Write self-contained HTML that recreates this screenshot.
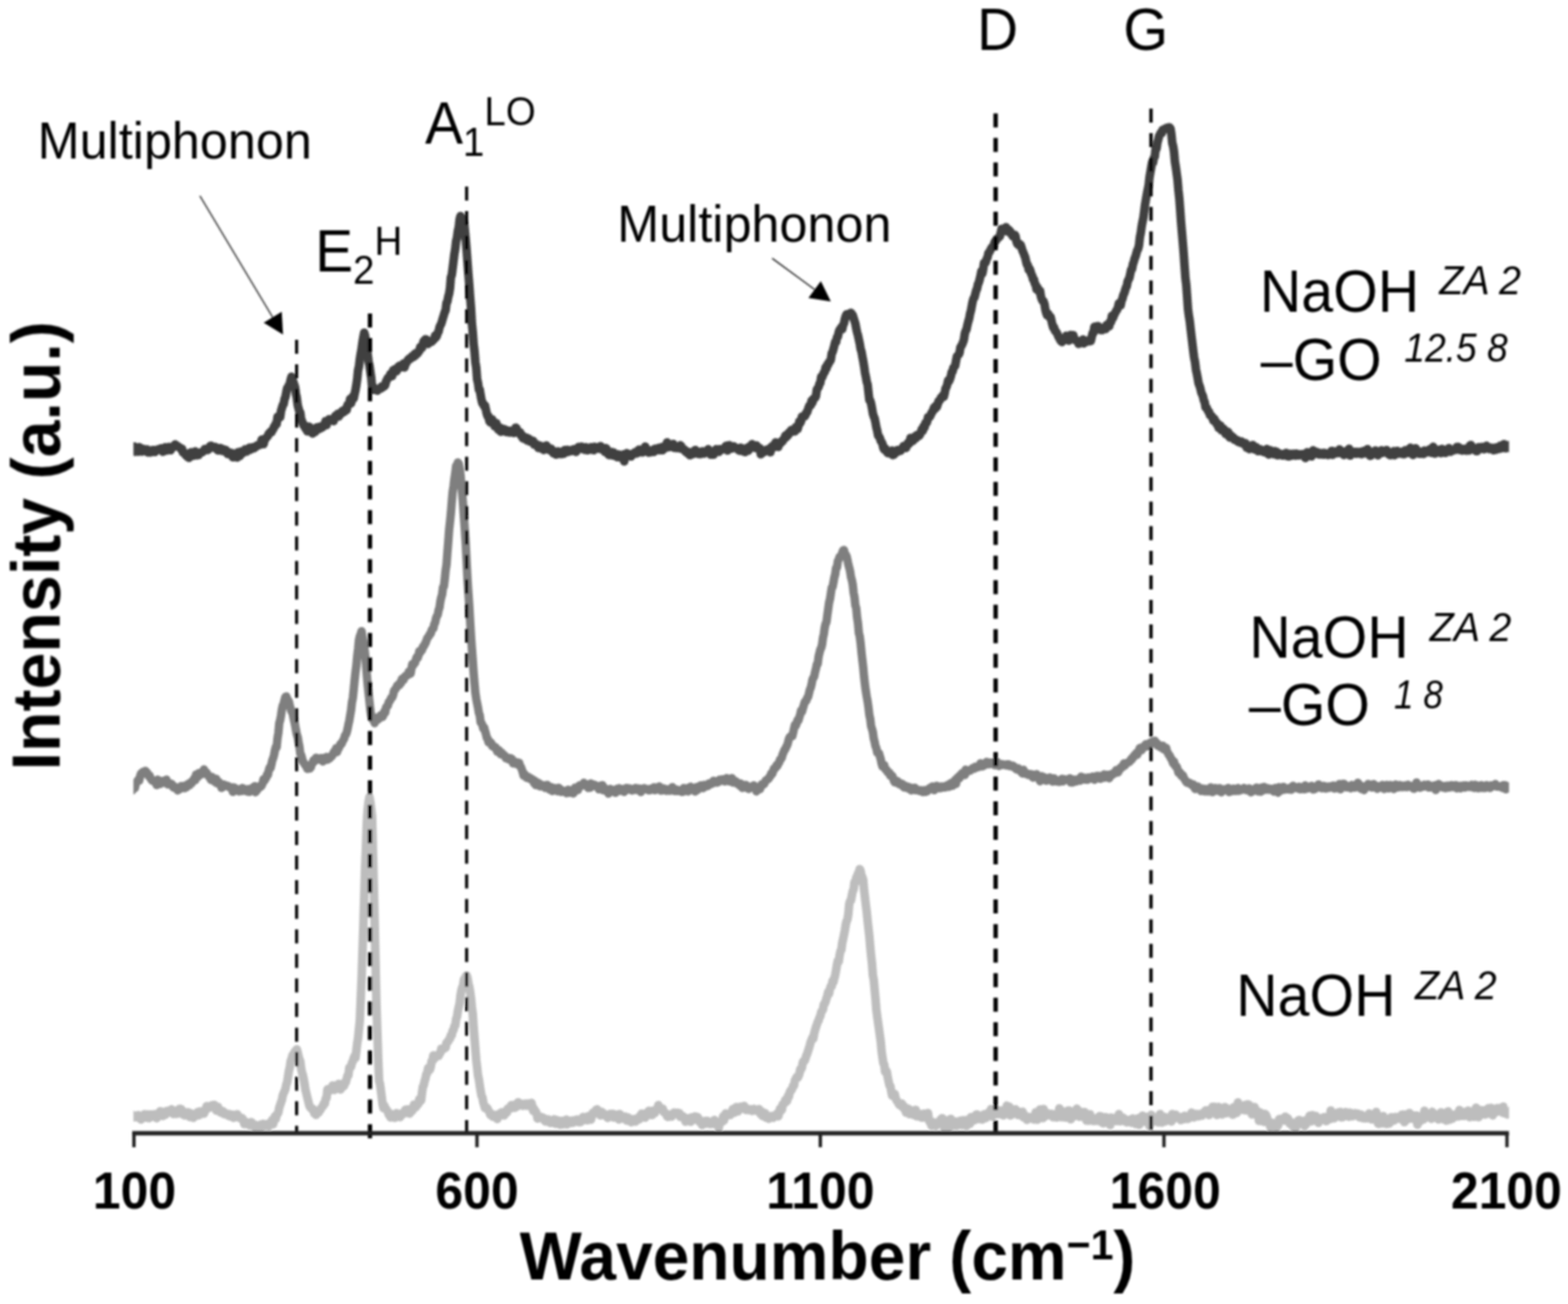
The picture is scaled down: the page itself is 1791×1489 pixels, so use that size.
<!DOCTYPE html>
<html lang="en">
<head>
<meta charset="utf-8">
<title>Raman spectra</title>
<style>
html,body{margin:0;padding:0;background:#fff;}
body{width:1791px;height:1489px;overflow:hidden;}
svg{display:block;}
text{font-family:"Liberation Sans", sans-serif;fill:#000;}
.b{font-weight:bold;}
.i{font-style:italic;}
.curve{fill:none;stroke-linejoin:round;stroke-linecap:butt;}
.dash{stroke:#000;fill:none;}
</style>
</head>
<body>
<svg width="1791" height="1489" viewBox="0 0 1791 1489">
<rect x="0" y="0" width="1791" height="1489" fill="#ffffff"/>
<defs><filter id="soft" x="0" y="0" width="1791" height="1489" filterUnits="userSpaceOnUse"><feGaussianBlur stdDeviation="0.9"/></filter></defs>
<clipPath id="plot"><rect x="152.4" y="0" width="1571.2" height="1489"/></clipPath>
<g filter="url(#soft)">
<g clip-path="url(#plot)">
<polyline class="curve" stroke="#bdbdbd" stroke-width="9.8" points="148.0,1279.0 149.0,1277.0 150.0,1276.0 151.0,1272.9 152.0,1275.3 153.0,1275.3 154.0,1275.6 155.0,1274.7 156.0,1275.5 157.0,1274.7 158.0,1273.4 159.0,1276.9 160.0,1277.2 161.0,1278.3 162.0,1275.4 163.0,1274.4 164.0,1273.9 165.0,1272.4 166.0,1276.2 167.0,1272.9 168.0,1272.5 169.0,1274.2 170.0,1276.9 171.0,1274.8 172.0,1272.5 173.0,1272.9 174.0,1275.0 175.0,1273.7 176.0,1272.5 177.0,1273.4 178.0,1275.1 179.0,1276.8 180.0,1271.6 181.0,1272.1 182.0,1271.6 183.0,1268.9 184.0,1271.0 185.0,1271.0 186.0,1274.3 187.0,1272.0 188.0,1269.5 189.0,1272.8 190.0,1271.0 191.0,1268.5 192.0,1270.0 193.0,1269.9 194.0,1269.4 195.0,1270.4 196.0,1266.7 197.0,1269.7 198.0,1271.9 199.0,1271.6 200.0,1271.8 201.0,1271.7 202.0,1271.9 203.0,1267.6 204.0,1270.1 205.0,1266.1 206.0,1268.0 207.0,1266.5 208.0,1271.6 209.0,1272.5 210.0,1270.5 211.0,1273.6 212.0,1270.1 213.0,1271.4 214.0,1271.7 215.0,1270.1 216.0,1272.9 217.0,1275.5 218.0,1271.2 219.0,1274.2 220.0,1273.1 221.0,1276.3 222.0,1274.1 223.0,1274.0 224.0,1273.7 225.0,1272.5 226.0,1269.8 227.0,1273.6 228.0,1269.2 229.0,1271.3 230.0,1271.6 231.0,1269.0 232.0,1270.3 233.0,1271.6 234.0,1269.3 235.0,1267.2 236.0,1263.1 237.0,1265.3 238.0,1265.3 239.0,1264.5 240.0,1263.1 241.0,1264.3 242.0,1262.1 243.0,1262.0 244.0,1263.5 245.0,1261.7 246.0,1263.4 247.0,1268.1 248.0,1266.8 249.0,1263.9 250.0,1266.5 251.0,1268.5 252.0,1270.3 253.0,1269.3 254.0,1268.7 255.0,1269.2 256.0,1272.1 257.0,1272.3 258.0,1271.3 259.0,1272.0 260.0,1272.0 261.0,1274.0 262.0,1272.1 263.0,1274.2 264.0,1275.1 265.0,1274.7 266.0,1272.9 267.0,1276.4 268.0,1273.6 269.0,1275.3 270.0,1273.6 271.0,1272.3 272.0,1275.7 273.0,1276.2 274.0,1275.9 275.0,1277.2 276.0,1276.5 277.0,1277.1 278.0,1279.2 279.0,1283.5 280.0,1282.6 281.0,1281.2 282.0,1283.5 283.0,1282.4 284.0,1282.7 285.0,1285.0 286.0,1283.0 287.0,1281.3 288.0,1282.8 289.0,1284.8 290.0,1285.4 291.0,1287.2 292.0,1284.5 293.0,1286.9 294.0,1286.5 295.0,1285.6 296.0,1287.0 297.0,1286.3 298.0,1284.1 299.0,1286.8 300.0,1283.3 301.0,1285.1 302.0,1285.1 303.0,1285.5 304.0,1283.6 305.0,1284.5 306.0,1284.4 307.0,1286.0 308.0,1282.7 309.0,1282.8 310.0,1281.1 311.0,1278.7 312.0,1283.7 313.0,1278.3 314.0,1274.7 315.0,1277.9 316.0,1272.8 317.0,1272.2 318.0,1270.1 319.0,1264.7 320.0,1261.9 321.0,1258.7 322.0,1256.1 323.0,1250.7 324.0,1248.2 325.0,1246.1 326.0,1243.6 327.0,1238.6 328.0,1235.7 329.0,1229.3 330.0,1222.8 331.0,1219.0 332.0,1211.8 333.0,1209.2 334.0,1205.4 335.0,1203.8 336.0,1202.8 337.0,1200.5 338.0,1199.9 339.0,1198.2 340.0,1201.6 341.0,1205.9 342.0,1209.8 343.0,1211.9 344.0,1220.4 345.0,1224.7 346.0,1228.0 347.0,1232.7 348.0,1238.6 349.0,1244.9 350.0,1248.9 351.0,1253.1 352.0,1257.0 353.0,1261.3 354.0,1264.0 355.0,1265.0 356.0,1266.4 357.0,1266.0 358.0,1266.7 359.0,1271.4 360.0,1268.8 361.0,1273.0 362.0,1270.2 363.0,1270.1 364.0,1270.5 365.0,1267.9 366.0,1267.3 367.0,1265.2 368.0,1263.7 369.0,1263.1 370.0,1259.7 371.0,1260.2 372.0,1254.5 373.0,1253.8 374.0,1244.0 375.0,1245.9 376.0,1245.7 377.0,1243.1 378.0,1244.0 379.0,1242.1 380.0,1239.5 381.0,1240.8 382.0,1244.6 383.0,1240.6 384.0,1240.3 385.0,1239.1 386.0,1239.8 387.0,1237.6 388.0,1239.6 389.0,1244.0 390.0,1242.0 391.0,1241.1 392.0,1240.6 393.0,1239.8 394.0,1235.8 395.0,1235.8 396.0,1231.9 397.0,1228.1 398.0,1227.8 399.0,1219.1 400.0,1219.3 401.0,1218.0 402.0,1213.5 403.0,1211.9 404.0,1208.4 405.0,1205.9 406.0,1208.3 407.0,1200.4 408.0,1191.5 409.0,1185.7 410.0,1175.2 411.0,1165.5 412.0,1141.2 413.0,1118.1 414.0,1088.3 415.0,1059.1 416.0,1025.3 417.0,990.9 418.0,967.7 419.0,939.0 420.0,923.7 421.0,915.7 422.0,910.0 423.0,915.6 424.0,923.7 425.0,932.7 426.0,973.9 427.0,1013.5 428.0,1057.4 429.0,1102.4 430.0,1148.1 431.0,1177.9 432.0,1208.5 433.0,1234.1 434.0,1237.6 435.0,1244.9 436.0,1252.6 437.0,1261.1 438.0,1265.4 439.0,1262.5 440.0,1265.1 441.0,1266.3 442.0,1268.1 443.0,1269.1 444.0,1272.8 445.0,1271.3 446.0,1276.0 447.0,1275.6 448.0,1272.7 449.0,1272.7 450.0,1273.4 451.0,1276.4 452.0,1272.6 453.0,1271.2 454.0,1273.3 455.0,1273.9 456.0,1272.2 457.0,1275.5 458.0,1273.3 459.0,1273.1 460.0,1270.8 461.0,1271.7 462.0,1270.9 463.0,1267.2 464.0,1270.5 465.0,1267.0 466.0,1269.1 467.0,1266.8 468.0,1271.7 469.0,1268.9 470.0,1269.0 471.0,1268.4 472.0,1264.0 473.0,1261.3 474.0,1263.3 475.0,1264.2 476.0,1261.8 477.0,1261.5 478.0,1260.2 479.0,1255.0 480.0,1256.4 481.0,1256.6 482.0,1248.0 483.0,1241.0 484.0,1239.2 485.0,1234.5 486.0,1231.4 487.0,1226.6 488.0,1225.4 489.0,1219.6 490.0,1222.2 491.0,1221.4 492.0,1218.3 493.0,1211.5 494.0,1211.6 495.0,1205.1 496.0,1209.0 497.0,1207.7 498.0,1205.3 499.0,1206.4 500.0,1205.3 501.0,1205.6 502.0,1203.4 503.0,1202.2 504.0,1197.7 505.0,1197.8 506.0,1197.9 507.0,1197.6 508.0,1195.7 509.0,1196.3 510.0,1190.9 511.0,1190.0 512.0,1189.1 513.0,1186.7 514.0,1186.0 515.0,1181.9 516.0,1182.2 517.0,1176.9 518.0,1176.2 519.0,1171.8 520.0,1171.0 521.0,1163.7 522.0,1161.1 523.0,1154.3 524.0,1149.8 525.0,1145.7 526.0,1136.3 527.0,1130.9 528.0,1127.5 529.0,1125.3 530.0,1118.2 531.0,1117.9 532.0,1114.8 533.0,1113.9 534.0,1116.7 535.0,1122.9 536.0,1126.7 537.0,1132.5 538.0,1139.9 539.0,1150.3 540.0,1157.9 541.0,1172.9 542.0,1185.5 543.0,1198.2 544.0,1210.5 545.0,1219.0 546.0,1228.1 547.0,1232.6 548.0,1239.5 549.0,1245.9 550.0,1251.4 551.0,1252.9 552.0,1258.7 553.0,1261.8 554.0,1265.3 555.0,1264.5 556.0,1264.7 557.0,1266.2 558.0,1268.4 559.0,1269.6 560.0,1272.7 561.0,1273.8 562.0,1273.9 563.0,1275.1 564.0,1273.0 565.0,1274.7 566.0,1274.1 567.0,1275.4 568.0,1277.8 569.0,1275.6 570.0,1271.9 571.0,1273.6 572.0,1272.3 573.0,1270.2 574.0,1270.8 575.0,1273.1 576.0,1273.6 577.0,1269.4 578.0,1271.0 579.0,1270.4 580.0,1265.9 581.0,1266.7 582.0,1266.1 583.0,1265.5 584.0,1261.9 585.0,1263.2 586.0,1265.0 587.0,1264.8 588.0,1264.9 589.0,1260.9 590.0,1263.9 591.0,1261.9 592.0,1258.6 593.0,1261.8 594.0,1260.3 595.0,1261.5 596.0,1260.7 597.0,1262.7 598.0,1261.2 599.0,1260.4 600.0,1262.3 601.0,1261.2 602.0,1260.2 603.0,1262.7 604.0,1260.3 605.0,1260.1 606.0,1260.5 607.0,1259.4 608.0,1262.8 609.0,1268.4 610.0,1266.1 611.0,1269.0 612.0,1269.2 613.0,1272.0 614.0,1277.3 615.0,1276.9 616.0,1274.9 617.0,1276.2 618.0,1275.4 619.0,1275.9 620.0,1276.2 621.0,1276.8 622.0,1279.4 623.0,1280.5 624.0,1280.7 625.0,1279.9 626.0,1278.1 627.0,1280.1 628.0,1279.1 629.0,1282.1 630.0,1281.9 631.0,1282.1 632.0,1280.2 633.0,1278.1 634.0,1282.6 635.0,1283.2 636.0,1278.9 637.0,1281.5 638.0,1283.3 639.0,1280.0 640.0,1284.3 641.0,1281.1 642.0,1280.0 643.0,1283.8 644.0,1282.1 645.0,1280.5 646.0,1282.5 647.0,1278.4 648.0,1283.9 649.0,1280.0 650.0,1281.4 651.0,1280.4 652.0,1281.7 653.0,1282.2 654.0,1279.5 655.0,1281.8 656.0,1280.1 657.0,1279.2 658.0,1279.8 659.0,1278.4 660.0,1278.7 661.0,1281.3 662.0,1279.7 663.0,1281.4 664.0,1280.0 665.0,1277.2 666.0,1275.5 667.0,1277.3 668.0,1278.8 669.0,1278.2 670.0,1276.8 671.0,1279.2 672.0,1274.7 673.0,1274.8 674.0,1276.3 675.0,1278.5 676.0,1274.4 677.0,1270.7 678.0,1272.0 679.0,1271.2 680.0,1270.3 681.0,1267.0 682.0,1266.8 683.0,1268.8 684.0,1270.0 685.0,1272.6 686.0,1273.7 687.0,1269.6 688.0,1270.2 689.0,1271.5 690.0,1271.9 691.0,1273.6 692.0,1274.2 693.0,1274.4 694.0,1276.5 695.0,1274.5 696.0,1272.8 697.0,1272.0 698.0,1272.9 699.0,1272.9 700.0,1271.9 701.0,1276.1 702.0,1275.6 703.0,1274.5 704.0,1273.7 705.0,1272.6 706.0,1274.0 707.0,1278.3 708.0,1272.2 709.0,1275.8 710.0,1277.1 711.0,1276.2 712.0,1275.7 713.0,1277.5 714.0,1275.0 715.0,1278.0 716.0,1279.6 717.0,1276.0 718.0,1276.5 719.0,1278.5 720.0,1280.5 721.0,1281.4 722.0,1280.5 723.0,1278.4 724.0,1277.9 725.0,1280.5 726.0,1280.6 727.0,1277.4 728.0,1278.3 729.0,1278.1 730.0,1278.2 731.0,1274.1 732.0,1275.3 733.0,1271.8 734.0,1272.0 735.0,1271.9 736.0,1274.0 737.0,1276.2 738.0,1271.4 739.0,1271.5 740.0,1272.1 741.0,1268.4 742.0,1271.5 743.0,1268.7 744.0,1273.2 745.0,1273.2 746.0,1270.8 747.0,1268.0 748.0,1270.9 749.0,1268.0 750.0,1266.7 751.0,1266.3 752.0,1261.9 753.0,1264.5 754.0,1265.8 755.0,1265.8 756.0,1266.4 757.0,1266.0 758.0,1269.7 759.0,1270.4 760.0,1271.1 761.0,1271.4 762.0,1274.8 763.0,1275.3 764.0,1273.7 765.0,1274.3 766.0,1274.8 767.0,1274.9 768.0,1272.3 769.0,1271.1 770.0,1270.5 771.0,1271.0 772.0,1271.8 773.0,1272.1 774.0,1270.6 775.0,1271.9 776.0,1271.1 777.0,1275.3 778.0,1273.7 779.0,1275.4 780.0,1274.6 781.0,1275.9 782.0,1276.3 783.0,1280.8 784.0,1279.5 785.0,1278.5 786.0,1277.0 787.0,1277.5 788.0,1279.5 789.0,1281.0 790.0,1275.9 791.0,1276.3 792.0,1277.4 793.0,1276.5 794.0,1274.8 795.0,1277.5 796.0,1278.8 797.0,1275.7 798.0,1279.0 799.0,1281.0 800.0,1281.5 801.0,1280.0 802.0,1284.7 803.0,1282.4 804.0,1280.5 805.0,1283.1 806.0,1280.0 807.0,1282.9 808.0,1279.8 809.0,1282.8 810.0,1281.0 811.0,1283.6 812.0,1283.1 813.0,1282.5 814.0,1282.0 815.0,1283.3 816.0,1278.9 817.0,1282.3 818.0,1282.5 819.0,1282.8 820.0,1283.6 821.0,1287.7 822.0,1281.4 823.0,1281.4 824.0,1279.8 825.0,1280.9 826.0,1274.7 827.0,1279.4 828.0,1274.9 829.0,1271.4 830.0,1272.5 831.0,1273.4 832.0,1273.4 833.0,1272.6 834.0,1273.2 835.0,1271.3 836.0,1270.3 837.0,1266.5 838.0,1270.1 839.0,1270.5 840.0,1267.4 841.0,1264.2 842.0,1264.8 843.0,1269.0 844.0,1265.0 845.0,1264.1 846.0,1263.7 847.0,1266.1 848.0,1264.3 849.0,1263.7 850.0,1262.9 851.0,1265.4 852.0,1267.4 853.0,1265.9 854.0,1267.5 855.0,1266.6 856.0,1266.6 857.0,1266.8 858.0,1266.8 859.0,1268.5 860.0,1267.8 861.0,1266.2 862.0,1267.4 863.0,1267.3 864.0,1268.3 865.0,1268.1 866.0,1268.8 867.0,1266.5 868.0,1270.2 869.0,1272.4 870.0,1269.1 871.0,1274.3 872.0,1273.2 873.0,1272.7 874.0,1271.1 875.0,1276.2 876.0,1273.9 877.0,1275.2 878.0,1277.5 879.0,1275.6 880.0,1275.2 881.0,1274.4 882.0,1275.7 883.0,1276.3 884.0,1275.5 885.0,1274.7 886.0,1272.9 887.0,1272.9 888.0,1271.2 889.0,1274.7 890.0,1271.0 891.0,1265.8 892.0,1265.4 893.0,1267.5 894.0,1261.0 895.0,1260.3 896.0,1259.9 897.0,1256.1 898.0,1257.9 899.0,1257.1 900.0,1251.6 901.0,1252.6 902.0,1247.5 903.0,1245.1 904.0,1245.0 905.0,1242.8 906.0,1239.5 907.0,1239.3 908.0,1233.5 909.0,1232.1 910.0,1229.9 911.0,1230.9 912.0,1229.0 913.0,1226.4 914.0,1221.2 915.0,1221.2 916.0,1219.0 917.0,1213.0 918.0,1211.5 919.0,1211.4 920.0,1208.9 921.0,1205.5 922.0,1203.1 923.0,1200.1 924.0,1197.0 925.0,1193.7 926.0,1189.6 927.0,1187.5 928.0,1184.7 929.0,1186.0 930.0,1179.9 931.0,1176.2 932.0,1172.9 933.0,1170.0 934.0,1166.9 935.0,1165.3 936.0,1161.9 937.0,1160.4 938.0,1155.4 939.0,1154.4 940.0,1152.6 941.0,1146.8 942.0,1146.1 943.0,1143.7 944.0,1140.1 945.0,1137.1 946.0,1132.6 947.0,1134.7 948.0,1129.0 949.0,1126.0 950.0,1126.2 951.0,1120.0 952.0,1121.5 953.0,1117.0 954.0,1113.2 955.0,1107.8 956.0,1101.8 957.0,1096.9 958.0,1098.2 959.0,1090.7 960.0,1086.1 961.0,1084.7 962.0,1076.7 963.0,1072.4 964.0,1067.6 965.0,1062.6 966.0,1056.0 967.0,1051.8 968.0,1049.7 969.0,1043.6 970.0,1032.4 971.0,1029.0 972.0,1028.0 973.0,1022.5 974.0,1017.7 975.0,1015.6 976.0,1007.3 977.0,1007.8 978.0,1002.4 979.0,1000.4 980.0,997.5 981.0,995.9 982.0,992.4 983.0,994.6 984.0,999.6 985.0,1001.7 986.0,1004.8 987.0,1016.6 988.0,1024.6 989.0,1033.5 990.0,1041.2 991.0,1051.3 992.0,1060.1 993.0,1069.2 994.0,1081.0 995.0,1091.2 996.0,1100.1 997.0,1113.9 998.0,1118.6 999.0,1129.6 1000.0,1140.1 1001.0,1153.2 1002.0,1160.7 1003.0,1168.0 1004.0,1174.7 1005.0,1182.4 1006.0,1189.3 1007.0,1200.6 1008.0,1207.5 1009.0,1214.1 1010.0,1215.6 1011.0,1224.0 1012.0,1222.2 1013.0,1223.9 1014.0,1230.4 1015.0,1235.0 1016.0,1239.5 1017.0,1240.3 1018.0,1246.3 1019.0,1251.1 1020.0,1248.3 1021.0,1249.5 1022.0,1249.4 1023.0,1254.0 1024.0,1256.5 1025.0,1257.8 1026.0,1259.2 1027.0,1261.3 1028.0,1260.6 1029.0,1262.8 1030.0,1260.1 1031.0,1261.6 1032.0,1265.3 1033.0,1263.6 1034.0,1267.8 1035.0,1270.5 1036.0,1268.4 1037.0,1265.8 1038.0,1266.5 1039.0,1272.2 1040.0,1267.5 1041.0,1269.9 1042.0,1269.5 1043.0,1270.6 1044.0,1273.3 1045.0,1269.2 1046.0,1267.3 1047.0,1274.7 1048.0,1272.3 1049.0,1273.4 1050.0,1271.9 1051.0,1274.2 1052.0,1275.8 1053.0,1276.1 1054.0,1272.0 1055.0,1271.8 1056.0,1274.5 1057.0,1275.1 1058.0,1276.6 1059.0,1273.9 1060.0,1270.8 1061.0,1278.9 1062.0,1281.2 1063.0,1281.9 1064.0,1285.3 1065.0,1283.9 1066.0,1281.3 1067.0,1284.6 1068.0,1282.3 1069.0,1285.6 1070.0,1283.3 1071.0,1283.7 1072.0,1283.2 1073.0,1282.5 1074.0,1278.7 1075.0,1282.2 1076.0,1276.9 1077.0,1284.0 1078.0,1286.1 1079.0,1288.8 1080.0,1284.4 1081.0,1281.1 1082.0,1279.3 1083.0,1288.0 1084.0,1280.2 1085.0,1285.2 1086.0,1277.6 1087.0,1283.2 1088.0,1285.6 1089.0,1284.8 1090.0,1283.4 1091.0,1281.0 1092.0,1280.7 1093.0,1285.4 1094.0,1283.9 1095.0,1282.1 1096.0,1282.5 1097.0,1279.6 1098.0,1284.4 1099.0,1284.7 1100.0,1279.2 1101.0,1281.1 1102.0,1283.2 1103.0,1279.1 1104.0,1285.5 1105.0,1284.0 1106.0,1279.2 1107.0,1282.0 1108.0,1283.2 1109.0,1275.7 1110.0,1279.7 1111.0,1277.7 1112.0,1277.3 1113.0,1279.2 1114.0,1275.8 1115.0,1272.8 1116.0,1272.6 1117.0,1276.2 1118.0,1277.8 1119.0,1275.9 1120.0,1275.1 1121.0,1275.4 1122.0,1278.4 1123.0,1276.1 1124.0,1272.4 1125.0,1273.3 1126.0,1276.7 1127.0,1272.0 1128.0,1271.9 1129.0,1272.5 1130.0,1269.8 1131.0,1274.0 1132.0,1266.5 1133.0,1275.0 1134.0,1270.2 1135.0,1267.7 1136.0,1270.9 1137.0,1266.1 1138.0,1271.4 1139.0,1272.2 1140.0,1268.6 1141.0,1269.0 1142.0,1272.1 1143.0,1268.1 1144.0,1269.6 1145.0,1270.8 1146.0,1273.6 1147.0,1268.3 1148.0,1269.5 1149.0,1271.7 1150.0,1262.5 1151.0,1267.5 1152.0,1263.5 1153.0,1264.0 1154.0,1273.7 1155.0,1269.9 1156.0,1272.5 1157.0,1268.3 1158.0,1269.8 1159.0,1267.2 1160.0,1266.8 1161.0,1268.0 1162.0,1269.2 1163.0,1273.2 1164.0,1269.7 1165.0,1271.4 1166.0,1270.7 1167.0,1272.0 1168.0,1269.4 1169.0,1275.9 1170.0,1272.9 1171.0,1274.7 1172.0,1275.0 1173.0,1278.7 1174.0,1277.3 1175.0,1275.7 1176.0,1275.7 1177.0,1276.0 1178.0,1276.8 1179.0,1276.1 1180.0,1277.8 1181.0,1278.4 1182.0,1275.1 1183.0,1270.1 1184.0,1277.6 1185.0,1278.5 1186.0,1271.7 1187.0,1270.6 1188.0,1266.8 1189.0,1273.8 1190.0,1270.2 1191.0,1276.7 1192.0,1266.4 1193.0,1272.5 1194.0,1274.5 1195.0,1271.8 1196.0,1270.9 1197.0,1273.5 1198.0,1271.8 1199.0,1272.3 1200.0,1273.1 1201.0,1272.0 1202.0,1273.0 1203.0,1275.7 1204.0,1272.9 1205.0,1274.1 1206.0,1272.2 1207.0,1276.0 1208.0,1270.8 1209.0,1275.4 1210.0,1265.6 1211.0,1270.2 1212.0,1269.2 1213.0,1275.7 1214.0,1273.8 1215.0,1269.5 1216.0,1271.4 1217.0,1276.2 1218.0,1272.9 1219.0,1273.7 1220.0,1268.2 1221.0,1268.1 1222.0,1273.8 1223.0,1278.1 1224.0,1271.0 1225.0,1273.0 1226.0,1269.5 1227.0,1274.6 1228.0,1270.4 1229.0,1269.7 1230.0,1266.0 1231.0,1269.7 1232.0,1271.8 1233.0,1275.1 1234.0,1269.4 1235.0,1274.9 1236.0,1272.3 1237.0,1272.6 1238.0,1271.3 1239.0,1269.8 1240.0,1272.0 1241.0,1279.6 1242.0,1273.3 1243.0,1275.6 1244.0,1279.7 1245.0,1272.4 1246.0,1278.5 1247.0,1276.6 1248.0,1278.4 1249.0,1280.1 1250.0,1277.6 1251.0,1277.4 1252.0,1279.8 1253.0,1279.5 1254.0,1276.0 1255.0,1276.9 1256.0,1274.5 1257.0,1280.8 1258.0,1274.9 1259.0,1278.4 1260.0,1282.7 1261.0,1280.3 1262.0,1277.1 1263.0,1275.7 1264.0,1276.2 1265.0,1280.2 1266.0,1278.9 1267.0,1278.4 1268.0,1284.6 1269.0,1276.1 1270.0,1276.4 1271.0,1276.8 1272.0,1278.5 1273.0,1278.7 1274.0,1277.4 1275.0,1280.0 1276.0,1279.7 1277.0,1277.3 1278.0,1272.2 1279.0,1280.4 1280.0,1276.7 1281.0,1277.5 1282.0,1278.9 1283.0,1276.4 1284.0,1277.8 1285.0,1280.4 1286.0,1279.8 1287.0,1281.5 1288.0,1278.8 1289.0,1280.4 1290.0,1278.6 1291.0,1280.6 1292.0,1282.0 1293.0,1280.3 1294.0,1277.1 1295.0,1280.0 1296.0,1281.1 1297.0,1283.4 1298.0,1280.2 1299.0,1278.6 1300.0,1276.9 1301.0,1284.4 1302.0,1277.0 1303.0,1275.9 1304.0,1277.9 1305.0,1274.0 1306.0,1281.0 1307.0,1279.1 1308.0,1279.3 1309.0,1275.3 1310.0,1276.4 1311.0,1280.1 1312.0,1280.9 1313.0,1285.7 1314.0,1280.9 1315.0,1273.0 1316.0,1277.6 1317.0,1277.1 1318.0,1280.6 1319.0,1277.9 1320.0,1279.0 1321.0,1277.2 1322.0,1279.6 1323.0,1281.7 1324.0,1276.1 1325.0,1272.1 1326.0,1275.0 1327.0,1281.8 1328.0,1278.7 1329.0,1276.9 1330.0,1275.4 1331.0,1280.5 1332.0,1278.8 1333.0,1277.5 1334.0,1276.3 1335.0,1277.1 1336.0,1276.9 1337.0,1279.2 1338.0,1280.6 1339.0,1272.1 1340.0,1273.0 1341.0,1276.7 1342.0,1277.0 1343.0,1272.8 1344.0,1274.9 1345.0,1275.5 1346.0,1275.4 1347.0,1275.3 1348.0,1276.4 1349.0,1278.9 1350.0,1278.6 1351.0,1278.0 1352.0,1276.8 1353.0,1274.1 1354.0,1274.6 1355.0,1277.6 1356.0,1276.2 1357.0,1277.6 1358.0,1276.0 1359.0,1275.3 1360.0,1275.6 1361.0,1270.5 1362.0,1273.5 1363.0,1272.7 1364.0,1275.9 1365.0,1272.1 1366.0,1273.8 1367.0,1272.2 1368.0,1274.3 1369.0,1274.7 1370.0,1272.1 1371.0,1272.5 1372.0,1272.7 1373.0,1273.8 1374.0,1270.8 1375.0,1271.1 1376.0,1269.6 1377.0,1268.0 1378.0,1270.6 1379.0,1271.0 1380.0,1267.9 1381.0,1273.2 1382.0,1267.5 1383.0,1270.7 1384.0,1269.3 1385.0,1263.8 1386.0,1267.3 1387.0,1263.8 1388.0,1267.5 1389.0,1270.1 1390.0,1273.1 1391.0,1270.1 1392.0,1264.0 1393.0,1267.0 1394.0,1271.9 1395.0,1269.0 1396.0,1272.5 1397.0,1266.2 1398.0,1266.0 1399.0,1264.1 1400.0,1266.8 1401.0,1271.0 1402.0,1265.8 1403.0,1270.0 1404.0,1269.3 1405.0,1269.8 1406.0,1267.0 1407.0,1267.9 1408.0,1272.8 1409.0,1264.4 1410.0,1269.2 1411.0,1271.2 1412.0,1268.7 1413.0,1270.7 1414.0,1259.0 1415.0,1264.9 1416.0,1263.1 1417.0,1264.9 1418.0,1265.9 1419.0,1267.1 1420.0,1263.9 1421.0,1267.6 1422.0,1261.8 1423.0,1267.8 1424.0,1264.9 1425.0,1261.1 1426.0,1261.3 1427.0,1261.9 1428.0,1264.8 1429.0,1268.7 1430.0,1272.6 1431.0,1271.5 1432.0,1266.2 1433.0,1264.2 1434.0,1269.7 1435.0,1267.9 1436.0,1271.5 1437.0,1271.6 1438.0,1279.9 1439.0,1270.1 1440.0,1275.5 1441.0,1280.2 1442.0,1275.0 1443.0,1274.6 1444.0,1281.0 1445.0,1272.0 1446.0,1273.1 1447.0,1275.4 1448.0,1280.5 1449.0,1282.2 1450.0,1280.9 1451.0,1287.0 1452.0,1281.7 1453.0,1282.3 1454.0,1282.3 1455.0,1286.7 1456.0,1283.9 1457.0,1282.5 1458.0,1287.4 1459.0,1286.2 1460.0,1284.5 1461.0,1277.9 1462.0,1277.6 1463.0,1279.3 1464.0,1278.8 1465.0,1277.9 1466.0,1278.0 1467.0,1279.6 1468.0,1275.1 1469.0,1277.6 1470.0,1276.4 1471.0,1277.1 1472.0,1279.0 1473.0,1282.9 1474.0,1282.9 1475.0,1281.5 1476.0,1285.4 1477.0,1286.2 1478.0,1287.1 1479.0,1285.1 1480.0,1287.7 1481.0,1285.5 1482.0,1280.8 1483.0,1279.5 1484.0,1279.0 1485.0,1283.0 1486.0,1279.9 1487.0,1280.1 1488.0,1280.6 1489.0,1283.8 1490.0,1285.6 1491.0,1279.5 1492.0,1283.9 1493.0,1280.0 1494.0,1280.8 1495.0,1276.4 1496.0,1273.9 1497.0,1278.5 1498.0,1280.4 1499.0,1273.3 1500.0,1276.8 1501.0,1277.9 1502.0,1278.6 1503.0,1274.3 1504.0,1275.7 1505.0,1279.9 1506.0,1282.2 1507.0,1278.0 1508.0,1279.8 1509.0,1277.9 1510.0,1278.3 1511.0,1276.2 1512.0,1276.4 1513.0,1275.6 1514.0,1277.6 1515.0,1280.2 1516.0,1278.0 1517.0,1278.8 1518.0,1275.7 1519.0,1278.1 1520.0,1268.1 1521.0,1272.0 1522.0,1274.7 1523.0,1271.1 1524.0,1276.9 1525.0,1275.9 1526.0,1272.8 1527.0,1274.7 1528.0,1270.5 1529.0,1271.6 1530.0,1272.6 1531.0,1269.7 1532.0,1275.9 1533.0,1271.9 1534.0,1275.6 1535.0,1272.7 1536.0,1273.2 1537.0,1269.9 1538.0,1271.0 1539.0,1270.7 1540.0,1272.4 1541.0,1275.2 1542.0,1270.5 1543.0,1271.4 1544.0,1273.2 1545.0,1274.6 1546.0,1272.3 1547.0,1271.5 1548.0,1271.2 1549.0,1273.0 1550.0,1273.8 1551.0,1271.6 1552.0,1272.9 1553.0,1275.8 1554.0,1274.1 1555.0,1272.9 1556.0,1276.4 1557.0,1276.9 1558.0,1276.8 1559.0,1277.0 1560.0,1274.5 1561.0,1276.1 1562.0,1276.7 1563.0,1276.0 1564.0,1271.5 1565.0,1276.1 1566.0,1277.6 1567.0,1278.2 1568.0,1276.4 1569.0,1277.0 1570.0,1272.4 1571.0,1272.9 1572.0,1269.7 1573.0,1277.3 1574.0,1283.0 1575.0,1283.3 1576.0,1276.3 1577.0,1280.8 1578.0,1282.6 1579.0,1278.5 1580.0,1274.4 1581.0,1282.7 1582.0,1278.4 1583.0,1278.2 1584.0,1283.4 1585.0,1280.5 1586.0,1281.2 1587.0,1282.8 1588.0,1278.0 1589.0,1275.7 1590.0,1279.9 1591.0,1278.1 1592.0,1279.7 1593.0,1278.6 1594.0,1275.4 1595.0,1277.1 1596.0,1276.1 1597.0,1276.2 1598.0,1276.6 1599.0,1277.5 1600.0,1276.8 1601.0,1273.0 1602.0,1277.3 1603.0,1272.7 1604.0,1281.3 1605.0,1274.0 1606.0,1275.5 1607.0,1278.9 1608.0,1274.7 1609.0,1271.4 1610.0,1271.0 1611.0,1275.6 1612.0,1276.3 1613.0,1277.4 1614.0,1275.8 1615.0,1273.9 1616.0,1276.5 1617.0,1278.8 1618.0,1273.9 1619.0,1284.3 1620.0,1274.8 1621.0,1278.6 1622.0,1280.5 1623.0,1277.9 1624.0,1276.2 1625.0,1277.3 1626.0,1278.2 1627.0,1268.4 1628.0,1275.7 1629.0,1273.9 1630.0,1273.1 1631.0,1275.2 1632.0,1275.6 1633.0,1276.3 1634.0,1273.8 1635.0,1277.5 1636.0,1269.5 1637.0,1271.8 1638.0,1271.6 1639.0,1274.9 1640.0,1273.7 1641.0,1276.1 1642.0,1273.2 1643.0,1278.3 1644.0,1277.0 1645.0,1273.4 1646.0,1270.1 1647.0,1271.1 1648.0,1270.8 1649.0,1278.0 1650.0,1276.9 1651.0,1272.0 1652.0,1279.6 1653.0,1274.0 1654.0,1269.1 1655.0,1277.6 1656.0,1278.5 1657.0,1274.8 1658.0,1272.4 1659.0,1277.4 1660.0,1273.2 1661.0,1274.1 1662.0,1275.3 1663.0,1274.6 1664.0,1272.3 1665.0,1270.8 1666.0,1274.8 1667.0,1267.5 1668.0,1273.6 1669.0,1273.8 1670.0,1274.1 1671.0,1271.7 1672.0,1273.1 1673.0,1274.2 1674.0,1269.5 1675.0,1272.0 1676.0,1272.6 1677.0,1268.2 1678.0,1269.1 1679.0,1275.7 1680.0,1274.3 1681.0,1269.7 1682.0,1273.2 1683.0,1272.8 1684.0,1275.3 1685.0,1274.0 1686.0,1264.8 1687.0,1270.1 1688.0,1275.0 1689.0,1275.5 1690.0,1269.4 1691.0,1267.6 1692.0,1271.2 1693.0,1269.2 1694.0,1270.4 1695.0,1267.8 1696.0,1272.6 1697.0,1272.4 1698.0,1271.7 1699.0,1267.4 1700.0,1265.5 1701.0,1266.8 1702.0,1270.9 1703.0,1265.2 1704.0,1271.1 1705.0,1273.6 1706.0,1267.1 1707.0,1267.6 1708.0,1270.4 1709.0,1269.7 1710.0,1265.3 1711.0,1265.9 1712.0,1266.3 1713.0,1265.4 1714.0,1267.9 1715.0,1268.0 1716.0,1270.4 1717.0,1263.6 1718.0,1271.1 1719.0,1270.9 1720.0,1268.9 1721.0,1270.7 1722.0,1272.6 1723.0,1271.2 1724.0,1269.9 1725.0,1271.0 1726.0,1268.4 1727.0,1266.7 1728.0,1267.9"/>
<polyline class="curve" stroke="#7f7f7f" stroke-width="9.6" points="148.0,900.9 149.0,901.0 150.0,898.3 151.0,902.9 152.0,898.4 153.0,899.3 154.0,900.0 155.0,895.6 156.0,893.4 157.0,891.5 158.0,891.3 159.0,891.3 160.0,886.4 161.0,883.4 162.0,884.2 163.0,881.5 164.0,881.2 165.0,881.6 166.0,880.2 167.0,882.1 168.0,882.2 169.0,884.5 170.0,886.3 171.0,886.0 172.0,888.5 173.0,890.3 174.0,891.4 175.0,892.0 176.0,891.7 177.0,893.3 178.0,893.5 179.0,896.4 180.0,890.3 181.0,893.3 182.0,893.9 183.0,895.2 184.0,893.8 185.0,891.8 186.0,892.8 187.0,893.5 188.0,892.4 189.0,893.5 190.0,890.2 191.0,895.3 192.0,895.7 193.0,893.9 194.0,895.7 195.0,895.6 196.0,895.1 197.0,897.1 198.0,899.1 199.0,897.9 200.0,898.5 201.0,899.6 202.0,901.1 203.0,902.6 204.0,899.9 205.0,901.2 206.0,900.6 207.0,897.6 208.0,899.3 209.0,899.7 210.0,899.8 211.0,899.9 212.0,896.7 213.0,898.8 214.0,897.0 215.0,895.1 216.0,896.9 217.0,896.2 218.0,893.4 219.0,894.3 220.0,891.7 221.0,891.1 222.0,888.7 223.0,890.9 224.0,884.5 225.0,886.9 226.0,887.1 227.0,882.7 228.0,884.1 229.0,883.6 230.0,884.1 231.0,883.8 232.0,880.6 233.0,878.5 234.0,882.4 235.0,883.4 236.0,882.3 237.0,884.5 238.0,885.9 239.0,887.4 240.0,888.2 241.0,890.4 242.0,887.1 243.0,891.2 244.0,891.2 245.0,891.0 246.0,893.2 247.0,889.4 248.0,894.5 249.0,894.2 250.0,892.8 251.0,895.3 252.0,895.3 253.0,899.6 254.0,899.1 255.0,897.4 256.0,896.0 257.0,896.5 258.0,897.3 259.0,897.4 260.0,897.3 261.0,898.1 262.0,898.9 263.0,899.0 264.0,899.1 265.0,899.5 266.0,904.2 267.0,899.1 268.0,899.6 269.0,901.7 270.0,901.0 271.0,902.1 272.0,902.9 273.0,903.6 274.0,902.9 275.0,900.7 276.0,903.3 277.0,899.8 278.0,901.9 279.0,901.5 280.0,901.0 281.0,903.3 282.0,902.6 283.0,904.0 284.0,901.0 285.0,904.1 286.0,903.5 287.0,902.4 288.0,899.9 289.0,900.8 290.0,898.6 291.0,897.8 292.0,904.6 293.0,901.5 294.0,901.7 295.0,898.3 296.0,899.2 297.0,898.8 298.0,898.1 299.0,896.7 300.0,894.3 301.0,889.9 302.0,891.5 303.0,889.5 304.0,888.3 305.0,884.5 306.0,884.8 307.0,879.7 308.0,876.4 309.0,877.0 310.0,873.0 311.0,868.2 312.0,865.7 313.0,862.2 314.0,857.0 315.0,853.1 316.0,853.1 317.0,842.7 318.0,836.7 319.0,825.7 320.0,822.3 321.0,816.8 322.0,809.9 323.0,805.6 324.0,803.7 325.0,799.4 326.0,795.8 327.0,795.2 328.0,798.1 329.0,799.4 330.0,801.3 331.0,805.6 332.0,809.4 333.0,812.5 334.0,813.3 335.0,818.3 336.0,823.1 337.0,827.6 338.0,833.5 339.0,838.6 340.0,841.5 341.0,847.4 342.0,852.5 343.0,860.6 344.0,862.1 345.0,865.8 346.0,869.7 347.0,870.9 348.0,872.6 349.0,874.1 350.0,875.2 351.0,878.0 352.0,877.6 353.0,875.4 354.0,877.4 355.0,876.2 356.0,872.3 357.0,871.8 358.0,868.2 359.0,869.5 360.0,867.4 361.0,865.2 362.0,866.1 363.0,867.3 364.0,866.2 365.0,867.3 366.0,867.5 367.0,865.5 368.0,866.3 369.0,869.5 370.0,866.7 371.0,865.2 372.0,866.1 373.0,864.4 374.0,867.5 375.0,866.3 376.0,866.4 377.0,865.4 378.0,863.8 379.0,863.7 380.0,861.7 381.0,859.5 382.0,858.0 383.0,857.6 384.0,854.3 385.0,858.9 386.0,853.6 387.0,854.4 388.0,851.8 389.0,849.3 390.0,849.7 391.0,847.3 392.0,845.2 393.0,843.8 394.0,839.9 395.0,838.8 396.0,836.5 397.0,832.3 398.0,827.1 399.0,822.8 400.0,816.7 401.0,811.0 402.0,802.0 403.0,797.1 404.0,787.8 405.0,777.2 406.0,767.9 407.0,760.5 408.0,749.4 409.0,741.3 410.0,730.9 411.0,726.6 412.0,724.1 413.0,720.7 414.0,727.2 415.0,731.9 416.0,738.8 417.0,746.3 418.0,757.6 419.0,770.7 420.0,782.0 421.0,791.8 422.0,801.1 423.0,810.5 424.0,817.4 425.0,820.5 426.0,821.9 427.0,822.7 428.0,825.6 429.0,820.9 430.0,819.6 431.0,822.1 432.0,821.2 433.0,820.4 434.0,819.8 435.0,816.8 436.0,816.8 437.0,818.5 438.0,816.4 439.0,812.4 440.0,813.7 441.0,807.9 442.0,806.5 443.0,805.7 444.0,801.9 445.0,800.7 446.0,799.0 447.0,796.7 448.0,796.3 449.0,793.6 450.0,789.1 451.0,787.5 452.0,786.6 453.0,784.5 454.0,782.4 455.0,783.0 456.0,782.4 457.0,779.4 458.0,780.0 459.0,775.6 460.0,774.5 461.0,776.3 462.0,773.5 463.0,772.1 464.0,772.0 465.0,770.5 466.0,770.5 467.0,766.8 468.0,766.5 469.0,769.3 470.0,763.2 471.0,758.3 472.0,759.6 473.0,757.9 474.0,756.9 475.0,753.2 476.0,750.4 477.0,751.4 478.0,748.6 479.0,743.5 480.0,745.0 481.0,742.3 482.0,742.2 483.0,738.6 484.0,738.3 485.0,735.8 486.0,734.5 487.0,731.6 488.0,728.9 489.0,727.5 490.0,726.3 491.0,724.0 492.0,723.5 493.0,719.8 494.0,718.0 495.0,717.7 496.0,712.8 497.0,711.0 498.0,706.2 499.0,703.5 500.0,701.9 501.0,696.6 502.0,693.9 503.0,686.6 504.0,682.1 505.0,678.8 506.0,670.7 507.0,669.7 508.0,661.4 509.0,651.3 510.0,645.1 511.0,631.4 512.0,619.0 513.0,605.1 514.0,595.9 515.0,586.1 516.0,573.3 517.0,561.7 518.0,555.4 519.0,546.7 520.0,540.5 521.0,532.0 522.0,530.9 523.0,528.1 524.0,529.4 525.0,534.4 526.0,541.8 527.0,553.6 528.0,564.6 529.0,576.9 530.0,591.8 531.0,605.6 532.0,621.6 533.0,641.9 534.0,661.8 535.0,677.1 536.0,691.4 537.0,709.0 538.0,726.3 539.0,740.3 540.0,753.8 541.0,768.4 542.0,780.2 543.0,791.2 544.0,797.8 545.0,803.3 546.0,808.1 547.0,814.2 548.0,816.9 549.0,824.8 550.0,825.8 551.0,827.8 552.0,831.8 553.0,830.7 554.0,834.8 555.0,838.0 556.0,842.5 557.0,843.5 558.0,847.6 559.0,846.4 560.0,848.6 561.0,848.3 562.0,851.8 563.0,851.2 564.0,853.2 565.0,852.9 566.0,853.1 567.0,855.5 568.0,858.3 569.0,856.5 570.0,856.7 571.0,859.1 572.0,861.3 573.0,859.5 574.0,860.7 575.0,862.4 576.0,862.4 577.0,864.0 578.0,865.8 579.0,864.9 580.0,865.4 581.0,867.1 582.0,866.5 583.0,865.8 584.0,866.2 585.0,867.0 586.0,871.6 587.0,869.8 588.0,871.1 589.0,871.9 590.0,870.3 591.0,872.9 592.0,871.9 593.0,871.1 594.0,875.1 595.0,875.8 596.0,878.5 597.0,881.5 598.0,885.7 599.0,883.7 600.0,885.6 601.0,887.6 602.0,888.1 603.0,888.1 604.0,887.5 605.0,888.3 606.0,889.9 607.0,889.3 608.0,890.5 609.0,890.5 610.0,894.2 611.0,891.7 612.0,896.5 613.0,894.0 614.0,893.6 615.0,894.0 616.0,897.2 617.0,898.0 618.0,895.9 619.0,897.7 620.0,897.5 621.0,897.8 622.0,898.8 623.0,899.8 624.0,896.5 625.0,896.4 626.0,900.1 627.0,900.4 628.0,901.6 629.0,898.5 630.0,899.7 631.0,903.2 632.0,899.7 633.0,901.8 634.0,900.6 635.0,901.0 636.0,900.1 637.0,903.4 638.0,899.6 639.0,900.4 640.0,901.2 641.0,904.3 642.0,903.4 643.0,903.9 644.0,903.1 645.0,903.6 646.0,904.2 647.0,905.7 648.0,903.9 649.0,901.8 650.0,905.3 651.0,904.1 652.0,902.5 653.0,903.7 654.0,902.5 655.0,906.0 656.0,902.2 657.0,899.3 658.0,901.7 659.0,900.0 660.0,902.2 661.0,900.0 662.0,896.8 663.0,897.8 664.0,896.5 665.0,896.4 666.0,896.0 667.0,893.8 668.0,896.8 669.0,895.5 670.0,895.6 671.0,898.1 672.0,899.7 673.0,896.6 674.0,899.5 675.0,894.6 676.0,897.9 677.0,896.7 678.0,897.3 679.0,896.1 680.0,896.7 681.0,897.2 682.0,897.4 683.0,898.7 684.0,901.3 685.0,897.9 686.0,898.6 687.0,896.8 688.0,896.5 689.0,902.2 690.0,899.3 691.0,900.5 692.0,902.2 693.0,904.0 694.0,903.9 695.0,906.2 696.0,903.3 697.0,900.9 698.0,903.4 699.0,903.4 700.0,902.0 701.0,902.5 702.0,902.3 703.0,905.2 704.0,902.0 705.0,900.7 706.0,902.7 707.0,900.0 708.0,902.9 709.0,902.9 710.0,901.0 711.0,901.2 712.0,901.3 713.0,904.2 714.0,902.4 715.0,900.0 716.0,899.8 717.0,901.3 718.0,901.4 719.0,900.3 720.0,901.6 721.0,901.0 722.0,902.6 723.0,901.7 724.0,900.9 725.0,900.9 726.0,899.7 727.0,902.0 728.0,901.5 729.0,900.4 730.0,901.0 731.0,900.5 732.0,904.4 733.0,900.7 734.0,901.8 735.0,901.6 736.0,900.0 737.0,901.0 738.0,900.8 739.0,901.6 740.0,901.7 741.0,902.5 742.0,902.5 743.0,900.8 744.0,900.6 745.0,900.5 746.0,900.0 747.0,899.0 748.0,902.2 749.0,901.5 750.0,901.1 751.0,899.1 752.0,899.1 753.0,898.0 754.0,901.4 755.0,902.7 756.0,902.6 757.0,901.6 758.0,900.2 759.0,901.7 760.0,901.9 761.0,902.9 762.0,903.0 763.0,901.5 764.0,901.9 765.0,902.9 766.0,902.6 767.0,901.5 768.0,898.8 769.0,900.9 770.0,903.1 771.0,902.4 772.0,903.3 773.0,901.6 774.0,902.2 775.0,903.2 776.0,903.1 777.0,902.8 778.0,903.8 779.0,904.2 780.0,904.0 781.0,899.9 782.0,901.3 783.0,901.6 784.0,901.5 785.0,900.0 786.0,903.7 787.0,900.9 788.0,901.8 789.0,898.3 790.0,900.5 791.0,900.7 792.0,899.7 793.0,901.8 794.0,903.7 795.0,899.0 796.0,898.7 797.0,901.9 798.0,900.2 799.0,898.4 800.0,896.9 801.0,899.3 802.0,898.6 803.0,899.9 804.0,896.4 805.0,896.8 806.0,896.4 807.0,896.3 808.0,897.7 809.0,896.9 810.0,894.5 811.0,894.6 812.0,894.2 813.0,895.2 814.0,893.3 815.0,891.5 816.0,892.1 817.0,892.3 818.0,893.3 819.0,893.6 820.0,893.2 821.0,891.6 822.0,890.4 823.0,891.7 824.0,890.7 825.0,890.1 826.0,891.4 827.0,891.7 828.0,892.2 829.0,889.6 830.0,888.6 831.0,891.4 832.0,889.8 833.0,892.2 834.0,889.5 835.0,889.9 836.0,888.6 837.0,893.6 838.0,890.9 839.0,891.7 840.0,891.7 841.0,892.8 842.0,894.8 843.0,894.5 844.0,895.1 845.0,897.1 846.0,894.6 847.0,898.5 848.0,899.7 849.0,896.3 850.0,898.8 851.0,897.2 852.0,896.3 853.0,898.2 854.0,900.3 855.0,900.8 856.0,899.3 857.0,898.6 858.0,899.2 859.0,898.9 860.0,898.9 861.0,896.8 862.0,899.7 863.0,900.4 864.0,903.6 865.0,901.7 866.0,900.5 867.0,900.8 868.0,901.2 869.0,898.5 870.0,895.5 871.0,896.1 872.0,895.7 873.0,894.9 874.0,892.5 875.0,890.9 876.0,890.5 877.0,889.8 878.0,889.2 879.0,886.9 880.0,886.2 881.0,882.9 882.0,883.7 883.0,881.0 884.0,877.7 885.0,877.6 886.0,876.6 887.0,873.7 888.0,874.4 889.0,871.6 890.0,870.9 891.0,867.1 892.0,866.7 893.0,865.0 894.0,861.2 895.0,859.2 896.0,856.5 897.0,855.5 898.0,853.0 899.0,851.3 900.0,848.2 901.0,844.2 902.0,841.8 903.0,840.9 904.0,840.2 905.0,840.5 906.0,836.3 907.0,831.7 908.0,827.6 909.0,828.7 910.0,825.9 911.0,822.1 912.0,822.6 913.0,819.2 914.0,815.8 915.0,811.3 916.0,812.6 917.0,809.0 918.0,805.8 919.0,802.2 920.0,800.5 921.0,800.2 922.0,796.9 923.0,796.0 924.0,791.8 925.0,787.7 926.0,785.4 927.0,781.3 928.0,776.0 929.0,774.1 930.0,772.3 931.0,767.4 932.0,763.6 933.0,758.6 934.0,758.1 935.0,749.9 936.0,745.6 937.0,741.7 938.0,739.9 939.0,735.8 940.0,728.3 941.0,724.0 942.0,716.6 943.0,712.3 944.0,710.3 945.0,702.5 946.0,695.3 947.0,688.2 948.0,684.2 949.0,677.6 950.0,671.3 951.0,670.0 952.0,665.0 953.0,659.4 954.0,655.9 955.0,648.4 956.0,648.0 957.0,640.9 958.0,638.8 959.0,635.9 960.0,635.3 961.0,635.0 962.0,631.2 963.0,628.6 964.0,628.1 965.0,632.2 966.0,633.3 967.0,635.2 968.0,639.5 969.0,644.6 970.0,648.2 971.0,652.3 972.0,658.9 973.0,662.3 974.0,667.4 975.0,676.8 976.0,681.9 977.0,691.3 978.0,694.4 979.0,705.0 980.0,711.5 981.0,722.7 982.0,726.6 983.0,734.4 984.0,744.7 985.0,753.6 986.0,762.1 987.0,773.1 988.0,781.9 989.0,789.3 990.0,795.5 991.0,800.9 992.0,807.9 993.0,816.5 994.0,820.9 995.0,829.3 996.0,832.2 997.0,836.0 998.0,843.3 999.0,847.0 1000.0,852.1 1001.0,854.3 1002.0,859.4 1003.0,859.5 1004.0,860.0 1005.0,863.8 1006.0,867.0 1007.0,872.1 1008.0,875.3 1009.0,873.9 1010.0,873.8 1011.0,877.9 1012.0,879.1 1013.0,879.4 1014.0,881.8 1015.0,882.5 1016.0,882.5 1017.0,885.9 1018.0,885.4 1019.0,885.8 1020.0,887.9 1021.0,891.6 1022.0,893.3 1023.0,893.4 1024.0,891.7 1025.0,891.9 1026.0,894.7 1027.0,895.1 1028.0,895.8 1029.0,894.5 1030.0,895.1 1031.0,895.4 1032.0,898.4 1033.0,899.2 1034.0,897.3 1035.0,899.3 1036.0,899.8 1037.0,898.3 1038.0,899.7 1039.0,901.1 1040.0,899.2 1041.0,902.4 1042.0,900.9 1043.0,901.3 1044.0,900.9 1045.0,899.6 1046.0,902.2 1047.0,902.0 1048.0,901.7 1049.0,902.2 1050.0,903.2 1051.0,902.7 1052.0,902.3 1053.0,903.4 1054.0,904.5 1055.0,903.6 1056.0,902.4 1057.0,904.2 1058.0,902.6 1059.0,903.5 1060.0,902.2 1061.0,900.7 1062.0,899.9 1063.0,900.2 1064.0,900.8 1065.0,898.0 1066.0,901.3 1067.0,902.2 1068.0,900.0 1069.0,898.3 1070.0,897.4 1071.0,899.8 1072.0,900.0 1073.0,899.4 1074.0,900.0 1075.0,898.1 1076.0,898.4 1077.0,899.1 1078.0,898.3 1079.0,899.2 1080.0,899.0 1081.0,897.8 1082.0,896.6 1083.0,896.9 1084.0,898.5 1085.0,894.9 1086.0,895.5 1087.0,893.8 1088.0,897.2 1089.0,892.7 1090.0,893.3 1091.0,890.7 1092.0,895.1 1093.0,888.5 1094.0,889.5 1095.0,886.8 1096.0,888.5 1097.0,885.0 1098.0,885.0 1099.0,882.8 1100.0,883.6 1101.0,883.6 1102.0,884.9 1103.0,878.9 1104.0,881.8 1105.0,880.8 1106.0,879.5 1107.0,879.6 1108.0,880.0 1109.0,879.0 1110.0,878.4 1111.0,877.0 1112.0,877.1 1113.0,877.8 1114.0,875.5 1115.0,875.6 1116.0,876.1 1117.0,876.1 1118.0,875.7 1119.0,874.3 1120.0,871.5 1121.0,874.9 1122.0,875.1 1123.0,874.9 1124.0,873.4 1125.0,873.5 1126.0,871.5 1127.0,870.0 1128.0,870.8 1129.0,870.8 1130.0,872.6 1131.0,872.4 1132.0,870.7 1133.0,870.8 1134.0,871.5 1135.0,871.9 1136.0,873.7 1137.0,871.5 1138.0,873.6 1139.0,870.2 1140.0,871.3 1141.0,874.6 1142.0,873.2 1143.0,872.8 1144.0,873.5 1145.0,872.6 1146.0,873.0 1147.0,873.4 1148.0,873.5 1149.0,873.8 1150.0,872.7 1151.0,873.9 1152.0,872.8 1153.0,874.5 1154.0,874.0 1155.0,874.9 1156.0,875.3 1157.0,874.4 1158.0,875.1 1159.0,876.1 1160.0,877.5 1161.0,878.6 1162.0,877.7 1163.0,877.3 1164.0,879.0 1165.0,879.3 1166.0,880.9 1167.0,882.1 1168.0,883.3 1169.0,879.0 1170.0,880.8 1171.0,882.0 1172.0,883.7 1173.0,884.1 1174.0,883.7 1175.0,885.0 1176.0,883.7 1177.0,884.4 1178.0,885.6 1179.0,884.3 1180.0,887.9 1181.0,885.0 1182.0,884.7 1183.0,886.7 1184.0,884.1 1185.0,886.2 1186.0,887.1 1187.0,889.5 1188.0,892.1 1189.0,888.3 1190.0,886.4 1191.0,888.6 1192.0,889.4 1193.0,887.6 1194.0,889.6 1195.0,891.5 1196.0,890.2 1197.0,888.6 1198.0,888.8 1199.0,887.7 1200.0,889.5 1201.0,889.8 1202.0,892.4 1203.0,888.7 1204.0,888.7 1205.0,891.4 1206.0,892.2 1207.0,891.0 1208.0,891.9 1209.0,892.6 1210.0,892.6 1211.0,892.1 1212.0,892.0 1213.0,889.3 1214.0,892.2 1215.0,891.4 1216.0,889.9 1217.0,890.4 1218.0,890.4 1219.0,890.1 1220.0,890.5 1221.0,890.0 1222.0,888.8 1223.0,893.5 1224.0,891.5 1225.0,893.5 1226.0,890.3 1227.0,892.5 1228.0,890.3 1229.0,892.4 1230.0,891.6 1231.0,891.1 1232.0,889.7 1233.0,890.2 1234.0,891.4 1235.0,886.9 1236.0,888.3 1237.0,887.6 1238.0,888.0 1239.0,890.1 1240.0,890.3 1241.0,888.9 1242.0,890.4 1243.0,887.8 1244.0,887.8 1245.0,888.7 1246.0,889.0 1247.0,888.1 1248.0,886.7 1249.0,888.9 1250.0,890.4 1251.0,887.5 1252.0,887.6 1253.0,886.0 1254.0,887.3 1255.0,886.1 1256.0,887.5 1257.0,889.3 1258.0,887.8 1259.0,886.0 1260.0,887.6 1261.0,884.4 1262.0,888.0 1263.0,886.8 1264.0,884.7 1265.0,885.4 1266.0,884.8 1267.0,888.6 1268.0,886.6 1269.0,884.1 1270.0,884.0 1271.0,884.4 1272.0,882.8 1273.0,883.1 1274.0,882.4 1275.0,879.3 1276.0,881.3 1277.0,882.1 1278.0,879.5 1279.0,878.9 1280.0,876.5 1281.0,875.7 1282.0,875.9 1283.0,873.4 1284.0,871.7 1285.0,874.0 1286.0,871.5 1287.0,871.7 1288.0,870.8 1289.0,870.4 1290.0,869.9 1291.0,868.8 1292.0,866.7 1293.0,867.0 1294.0,864.6 1295.0,864.3 1296.0,862.1 1297.0,861.8 1298.0,859.8 1299.0,861.7 1300.0,859.3 1301.0,856.6 1302.0,854.1 1303.0,854.7 1304.0,856.5 1305.0,853.1 1306.0,854.1 1307.0,851.9 1308.0,851.1 1309.0,849.8 1310.0,851.3 1311.0,852.0 1312.0,851.3 1313.0,850.3 1314.0,847.8 1315.0,848.7 1316.0,846.8 1317.0,846.8 1318.0,848.0 1319.0,845.9 1320.0,848.5 1321.0,848.4 1322.0,851.3 1323.0,850.0 1324.0,851.5 1325.0,853.0 1326.0,853.2 1327.0,853.8 1328.0,851.5 1329.0,855.5 1330.0,853.1 1331.0,854.8 1332.0,854.0 1333.0,858.3 1334.0,859.7 1335.0,861.9 1336.0,862.6 1337.0,865.3 1338.0,866.4 1339.0,868.9 1340.0,871.8 1341.0,869.6 1342.0,873.9 1343.0,875.5 1344.0,875.2 1345.0,878.2 1346.0,882.2 1347.0,882.2 1348.0,882.3 1349.0,885.4 1350.0,886.2 1351.0,885.3 1352.0,887.8 1353.0,889.7 1354.0,891.2 1355.0,892.9 1356.0,893.7 1357.0,894.1 1358.0,893.7 1359.0,894.3 1360.0,894.7 1361.0,896.4 1362.0,896.0 1363.0,895.9 1364.0,898.3 1365.0,900.9 1366.0,898.0 1367.0,900.0 1368.0,898.1 1369.0,899.4 1370.0,900.9 1371.0,901.7 1372.0,903.3 1373.0,900.2 1374.0,901.2 1375.0,903.4 1376.0,903.6 1377.0,900.9 1378.0,902.0 1379.0,903.5 1380.0,903.7 1381.0,900.8 1382.0,902.2 1383.0,899.0 1384.0,903.4 1385.0,904.5 1386.0,900.6 1387.0,901.4 1388.0,899.9 1389.0,901.3 1390.0,902.8 1391.0,902.9 1392.0,902.5 1393.0,900.0 1394.0,900.9 1395.0,904.6 1396.0,902.5 1397.0,901.5 1398.0,902.3 1399.0,901.2 1400.0,902.1 1401.0,900.9 1402.0,900.8 1403.0,899.9 1404.0,904.4 1405.0,903.2 1406.0,903.0 1407.0,903.3 1408.0,901.8 1409.0,900.5 1410.0,902.7 1411.0,903.1 1412.0,902.8 1413.0,901.4 1414.0,899.9 1415.0,903.0 1416.0,902.7 1417.0,901.9 1418.0,901.7 1419.0,901.7 1420.0,901.1 1421.0,899.9 1422.0,901.7 1423.0,901.4 1424.0,902.3 1425.0,901.5 1426.0,902.1 1427.0,900.2 1428.0,902.5 1429.0,904.7 1430.0,901.9 1431.0,902.7 1432.0,903.0 1433.0,902.2 1434.0,901.8 1435.0,899.3 1436.0,900.4 1437.0,903.6 1438.0,901.9 1439.0,901.9 1440.0,903.9 1441.0,899.2 1442.0,902.6 1443.0,902.1 1444.0,898.5 1445.0,900.1 1446.0,901.6 1447.0,900.1 1448.0,900.0 1449.0,901.8 1450.0,900.8 1451.0,901.1 1452.0,900.7 1453.0,901.0 1454.0,901.4 1455.0,903.9 1456.0,901.4 1457.0,899.8 1458.0,901.1 1459.0,901.3 1460.0,905.1 1461.0,898.9 1462.0,901.3 1463.0,901.0 1464.0,902.4 1465.0,898.9 1466.0,898.5 1467.0,900.7 1468.0,901.5 1469.0,900.9 1470.0,901.0 1471.0,900.2 1472.0,901.4 1473.0,900.2 1474.0,899.4 1475.0,901.8 1476.0,898.6 1477.0,897.4 1478.0,899.0 1479.0,899.5 1480.0,899.6 1481.0,899.3 1482.0,900.1 1483.0,899.0 1484.0,898.4 1485.0,901.3 1486.0,899.4 1487.0,900.9 1488.0,899.8 1489.0,900.2 1490.0,901.3 1491.0,896.9 1492.0,900.6 1493.0,899.5 1494.0,900.3 1495.0,898.5 1496.0,899.0 1497.0,898.7 1498.0,897.4 1499.0,898.9 1500.0,901.5 1501.0,901.0 1502.0,900.9 1503.0,898.6 1504.0,898.4 1505.0,897.9 1506.0,895.7 1507.0,898.1 1508.0,897.7 1509.0,899.9 1510.0,900.1 1511.0,899.3 1512.0,897.4 1513.0,897.8 1514.0,900.5 1515.0,899.3 1516.0,900.0 1517.0,898.2 1518.0,899.8 1519.0,898.2 1520.0,897.9 1521.0,898.8 1522.0,897.4 1523.0,897.0 1524.0,900.4 1525.0,899.6 1526.0,897.9 1527.0,898.5 1528.0,900.0 1529.0,897.6 1530.0,895.2 1531.0,901.2 1532.0,896.5 1533.0,897.4 1534.0,895.1 1535.0,895.1 1536.0,898.5 1537.0,896.6 1538.0,899.1 1539.0,898.2 1540.0,898.2 1541.0,899.2 1542.0,899.4 1543.0,900.1 1544.0,896.4 1545.0,897.2 1546.0,899.2 1547.0,899.4 1548.0,897.5 1549.0,896.5 1550.0,897.8 1551.0,893.9 1552.0,895.7 1553.0,899.5 1554.0,896.7 1555.0,900.9 1556.0,898.6 1557.0,898.8 1558.0,902.1 1559.0,899.7 1560.0,897.7 1561.0,897.3 1562.0,897.0 1563.0,895.2 1564.0,898.4 1565.0,898.1 1566.0,897.2 1567.0,899.2 1568.0,897.1 1569.0,895.4 1570.0,896.3 1571.0,897.9 1572.0,898.6 1573.0,900.6 1574.0,897.7 1575.0,898.8 1576.0,899.5 1577.0,898.9 1578.0,898.3 1579.0,896.3 1580.0,897.5 1581.0,900.9 1582.0,898.4 1583.0,897.7 1584.0,896.3 1585.0,898.3 1586.0,900.2 1587.0,897.1 1588.0,896.5 1589.0,897.6 1590.0,897.1 1591.0,897.1 1592.0,900.9 1593.0,899.0 1594.0,895.9 1595.0,897.7 1596.0,899.1 1597.0,897.6 1598.0,898.9 1599.0,896.4 1600.0,898.5 1601.0,898.0 1602.0,898.7 1603.0,897.8 1604.0,897.0 1605.0,898.5 1606.0,898.7 1607.0,898.8 1608.0,896.1 1609.0,897.1 1610.0,897.6 1611.0,897.5 1612.0,897.5 1613.0,898.2 1614.0,900.1 1615.0,900.7 1616.0,899.9 1617.0,898.6 1618.0,893.5 1619.0,896.9 1620.0,898.7 1621.0,897.0 1622.0,899.5 1623.0,897.3 1624.0,898.2 1625.0,897.6 1626.0,898.3 1627.0,896.1 1628.0,897.5 1629.0,896.8 1630.0,896.4 1631.0,895.9 1632.0,899.3 1633.0,896.8 1634.0,899.1 1635.0,898.2 1636.0,898.9 1637.0,898.3 1638.0,898.0 1639.0,896.7 1640.0,902.0 1641.0,900.1 1642.0,899.5 1643.0,895.2 1644.0,897.0 1645.0,897.2 1646.0,898.4 1647.0,897.4 1648.0,899.1 1649.0,898.6 1650.0,899.6 1651.0,899.9 1652.0,897.2 1653.0,897.3 1654.0,897.1 1655.0,899.4 1656.0,898.3 1657.0,897.6 1658.0,896.6 1659.0,898.8 1660.0,898.4 1661.0,898.5 1662.0,897.8 1663.0,896.5 1664.0,900.1 1665.0,898.6 1666.0,898.7 1667.0,897.6 1668.0,900.2 1669.0,897.4 1670.0,897.7 1671.0,897.1 1672.0,896.9 1673.0,899.4 1674.0,897.8 1675.0,897.0 1676.0,898.1 1677.0,898.1 1678.0,898.5 1679.0,897.7 1680.0,898.6 1681.0,896.1 1682.0,897.1 1683.0,899.5 1684.0,899.6 1685.0,896.1 1686.0,898.8 1687.0,898.6 1688.0,900.0 1689.0,897.2 1690.0,899.0 1691.0,899.6 1692.0,896.6 1693.0,897.6 1694.0,899.7 1695.0,898.4 1696.0,899.8 1697.0,898.7 1698.0,896.6 1699.0,898.6 1700.0,899.0 1701.0,897.9 1702.0,899.8 1703.0,896.8 1704.0,898.3 1705.0,898.0 1706.0,897.2 1707.0,896.2 1708.0,895.4 1709.0,896.6 1710.0,898.1 1711.0,897.7 1712.0,898.2 1713.0,898.2 1714.0,897.9 1715.0,898.9 1716.0,899.6 1717.0,896.6 1718.0,898.6 1719.0,896.5 1720.0,901.3 1721.0,897.4 1722.0,898.0 1723.0,899.8 1724.0,899.3 1725.0,900.0 1726.0,900.6 1727.0,898.5 1728.0,901.3"/>
<polyline class="curve" stroke="#404040" stroke-width="9.8" points="148.0,515.7 149.0,512.3 150.0,512.2 151.0,511.5 152.0,514.2 153.0,509.8 154.0,515.8 155.0,512.4 156.0,513.9 157.0,513.4 158.0,515.8 159.0,510.6 160.0,513.1 161.0,513.5 162.0,515.7 163.0,512.5 164.0,513.8 165.0,513.0 166.0,514.5 167.0,515.4 168.0,513.2 169.0,516.6 170.0,516.6 171.0,516.0 172.0,516.5 173.0,514.2 174.0,514.9 175.0,513.8 176.0,515.0 177.0,516.1 178.0,514.0 179.0,514.1 180.0,513.4 181.0,512.9 182.0,513.0 183.0,513.7 184.0,511.9 185.0,513.8 186.0,515.9 187.0,514.2 188.0,512.3 189.0,510.8 190.0,511.0 191.0,514.4 192.0,511.7 193.0,510.3 194.0,511.5 195.0,514.1 196.0,511.0 197.0,511.2 198.0,510.5 199.0,509.0 200.0,507.5 201.0,508.5 202.0,508.7 203.0,509.8 204.0,510.1 205.0,511.1 206.0,511.4 207.0,513.4 208.0,512.5 209.0,516.9 210.0,517.2 211.0,517.3 212.0,519.6 213.0,519.6 214.0,521.5 215.0,522.2 216.0,522.8 217.0,517.1 218.0,516.6 219.0,518.1 220.0,519.2 221.0,520.3 222.0,519.1 223.0,515.4 224.0,517.9 225.0,519.8 226.0,518.9 227.0,519.3 228.0,517.2 229.0,516.6 230.0,516.6 231.0,516.3 232.0,515.4 233.0,514.5 234.0,512.7 235.0,513.6 236.0,512.8 237.0,513.8 238.0,513.3 239.0,511.1 240.0,509.5 241.0,509.0 242.0,510.9 243.0,510.7 244.0,510.3 245.0,511.1 246.0,510.5 247.0,512.7 248.0,511.5 249.0,514.3 250.0,513.5 251.0,513.8 252.0,511.6 253.0,513.8 254.0,514.9 255.0,512.8 256.0,514.3 257.0,515.3 258.0,513.8 259.0,517.0 260.0,518.4 261.0,516.5 262.0,518.6 263.0,516.8 264.0,519.1 265.0,517.5 266.0,522.2 267.0,521.8 268.0,520.5 269.0,519.1 270.0,522.0 271.0,522.4 272.0,516.3 273.0,520.4 274.0,520.8 275.0,518.1 276.0,515.3 277.0,517.8 278.0,515.9 279.0,514.5 280.0,513.2 281.0,515.5 282.0,515.5 283.0,512.9 284.0,513.9 285.0,511.1 286.0,513.5 287.0,511.9 288.0,511.0 289.0,510.7 290.0,511.8 291.0,511.2 292.0,510.3 293.0,509.1 294.0,508.5 295.0,508.8 296.0,507.8 297.0,507.8 298.0,505.5 299.0,501.9 300.0,506.3 301.0,507.2 302.0,503.4 303.0,501.2 304.0,500.0 305.0,498.9 306.0,497.9 307.0,495.0 308.0,494.6 309.0,492.9 310.0,493.6 311.0,491.2 312.0,490.2 313.0,487.2 314.0,486.7 315.0,483.7 316.0,484.2 317.0,475.9 318.0,475.4 319.0,476.1 320.0,476.4 321.0,469.1 322.0,466.0 323.0,462.4 324.0,461.4 325.0,455.8 326.0,453.5 327.0,448.3 328.0,443.2 329.0,442.2 330.0,439.7 331.0,438.2 332.0,433.4 333.0,430.2 334.0,433.3 335.0,436.0 336.0,439.2 337.0,442.0 338.0,449.5 339.0,454.3 340.0,462.4 341.0,466.4 342.0,470.0 343.0,471.1 344.0,478.8 345.0,481.0 346.0,483.7 347.0,486.1 348.0,485.9 349.0,489.5 350.0,488.7 351.0,492.6 352.0,488.0 353.0,487.3 354.0,487.9 355.0,489.5 356.0,490.0 357.0,495.0 358.0,491.9 359.0,490.1 360.0,493.1 361.0,489.8 362.0,488.1 363.0,490.6 364.0,489.6 365.0,487.3 366.0,489.2 367.0,486.8 368.0,488.1 369.0,485.9 370.0,486.5 371.0,483.4 372.0,480.8 373.0,485.4 374.0,480.3 375.0,479.9 376.0,478.7 377.0,479.1 378.0,479.5 379.0,479.1 380.0,479.5 381.0,480.8 382.0,477.3 383.0,474.9 384.0,474.3 385.0,474.3 386.0,472.4 387.0,475.5 388.0,473.1 389.0,472.6 390.0,472.3 391.0,469.3 392.0,469.0 393.0,470.3 394.0,469.0 395.0,466.4 396.0,468.2 397.0,462.4 398.0,462.3 399.0,460.9 400.0,455.5 401.0,460.7 402.0,456.6 403.0,452.6 404.0,455.2 405.0,449.8 406.0,445.6 407.0,439.9 408.0,432.9 409.0,422.7 410.0,418.8 411.0,410.1 412.0,403.8 413.0,398.4 414.0,390.8 415.0,385.1 416.0,379.9 417.0,383.1 418.0,390.8 419.0,398.4 420.0,405.0 421.0,412.7 422.0,417.3 423.0,424.3 424.0,430.9 425.0,441.7 426.0,441.4 427.0,445.2 428.0,443.4 429.0,443.8 430.0,444.8 431.0,446.1 432.0,444.6 433.0,444.4 434.0,443.9 435.0,443.7 436.0,441.2 437.0,442.3 438.0,441.4 439.0,441.0 440.0,439.7 441.0,435.5 442.0,433.8 443.0,431.3 444.0,431.2 445.0,430.5 446.0,426.9 447.0,428.2 448.0,429.3 449.0,422.8 450.0,422.5 451.0,421.6 452.0,421.9 453.0,423.9 454.0,420.6 455.0,418.5 456.0,419.7 457.0,417.4 458.0,419.3 459.0,417.6 460.0,418.4 461.0,415.0 462.0,419.7 463.0,415.9 464.0,414.7 465.0,412.8 466.0,410.9 467.0,410.0 468.0,410.2 469.0,408.4 470.0,408.9 471.0,406.5 472.0,407.7 473.0,407.2 474.0,403.8 475.0,405.5 476.0,402.6 477.0,403.6 478.0,401.5 479.0,400.9 480.0,396.3 481.0,396.3 482.0,397.3 483.0,392.6 484.0,389.3 485.0,388.8 486.0,387.4 487.0,387.7 488.0,390.2 489.0,392.8 490.0,390.2 491.0,391.0 492.0,390.3 493.0,390.3 494.0,389.2 495.0,387.9 496.0,387.2 497.0,383.3 498.0,385.1 499.0,383.5 500.0,379.8 501.0,378.6 502.0,373.7 503.0,371.4 504.0,369.7 505.0,366.3 506.0,362.9 507.0,359.6 508.0,356.4 509.0,354.2 510.0,345.7 511.0,344.4 512.0,338.9 513.0,335.4 514.0,329.1 515.0,316.7 516.0,314.1 517.0,306.4 518.0,298.3 519.0,290.0 520.0,284.3 521.0,275.2 522.0,271.4 523.0,263.6 524.0,259.6 525.0,250.4 526.0,246.7 527.0,248.6 528.0,249.4 529.0,251.8 530.0,253.5 531.0,263.0 532.0,273.8 533.0,285.9 534.0,299.5 535.0,312.9 536.0,325.2 537.0,339.0 538.0,351.4 539.0,369.2 540.0,379.1 541.0,392.8 542.0,401.0 543.0,413.7 544.0,419.9 545.0,433.3 546.0,437.3 547.0,445.2 548.0,444.9 549.0,451.5 550.0,456.7 551.0,460.7 552.0,460.9 553.0,463.9 554.0,463.1 555.0,467.7 556.0,472.6 557.0,475.5 558.0,475.5 559.0,480.9 560.0,482.4 561.0,481.0 562.0,478.8 563.0,480.4 564.0,483.1 565.0,486.8 566.0,486.2 567.0,483.2 568.0,486.8 569.0,490.4 570.0,488.0 571.0,488.2 572.0,493.0 573.0,490.4 574.0,489.6 575.0,491.1 576.0,490.8 577.0,490.4 578.0,493.2 579.0,493.4 580.0,493.1 581.0,491.8 582.0,493.8 583.0,492.0 584.0,492.6 585.0,493.5 586.0,493.1 587.0,494.4 588.0,492.0 589.0,488.3 590.0,489.1 591.0,493.9 592.0,492.5 593.0,494.3 594.0,493.6 595.0,497.3 596.0,496.6 597.0,500.2 598.0,498.3 599.0,501.2 600.0,501.2 601.0,499.7 602.0,502.8 603.0,500.4 604.0,501.1 605.0,504.0 606.0,502.6 607.0,503.1 608.0,504.0 609.0,503.8 610.0,507.5 611.0,507.5 612.0,507.0 613.0,507.5 614.0,509.1 615.0,511.6 616.0,510.6 617.0,508.8 618.0,511.0 619.0,510.0 620.0,510.4 621.0,513.8 622.0,510.8 623.0,510.6 624.0,508.7 625.0,510.0 626.0,513.3 627.0,512.2 628.0,514.2 629.0,512.1 630.0,513.0 631.0,515.8 632.0,517.5 633.0,516.6 634.0,517.9 635.0,519.0 636.0,518.1 637.0,515.4 638.0,516.9 639.0,518.3 640.0,517.2 641.0,518.5 642.0,515.7 643.0,516.6 644.0,518.2 645.0,513.8 646.0,515.1 647.0,516.4 648.0,513.7 649.0,516.0 650.0,514.5 651.0,514.9 652.0,514.7 653.0,515.0 654.0,513.6 655.0,514.2 656.0,512.9 657.0,514.5 658.0,516.0 659.0,513.4 660.0,512.7 661.0,510.4 662.0,512.8 663.0,510.4 664.0,510.0 665.0,512.1 666.0,511.8 667.0,513.3 668.0,513.7 669.0,510.6 670.0,511.6 671.0,514.2 672.0,513.1 673.0,512.7 674.0,513.4 675.0,510.6 676.0,512.4 677.0,513.8 678.0,514.0 679.0,510.2 680.0,510.8 681.0,511.9 682.0,510.8 683.0,510.7 684.0,512.4 685.0,511.1 686.0,509.4 687.0,513.1 688.0,512.6 689.0,512.4 690.0,511.9 691.0,516.1 692.0,511.7 693.0,512.9 694.0,516.0 695.0,519.1 696.0,519.6 697.0,516.2 698.0,517.8 699.0,516.2 700.0,520.1 701.0,516.7 702.0,518.9 703.0,521.0 704.0,519.5 705.0,522.0 706.0,518.8 707.0,520.8 708.0,521.7 709.0,520.6 710.0,523.0 711.0,521.7 712.0,518.8 713.0,526.9 714.0,521.9 715.0,520.1 716.0,517.5 717.0,519.4 718.0,518.5 719.0,519.8 720.0,519.3 721.0,521.2 722.0,518.3 723.0,518.3 724.0,517.8 725.0,516.6 726.0,516.3 727.0,517.9 728.0,517.1 729.0,514.4 730.0,513.3 731.0,514.7 732.0,516.4 733.0,514.6 734.0,516.7 735.0,513.0 736.0,513.9 737.0,509.9 738.0,512.7 739.0,513.5 740.0,515.0 741.0,516.8 742.0,514.4 743.0,516.4 744.0,515.3 745.0,515.6 746.0,513.5 747.0,516.0 748.0,512.5 749.0,514.6 750.0,512.5 751.0,512.9 752.0,511.5 753.0,513.0 754.0,514.2 755.0,512.9 756.0,510.5 757.0,514.0 758.0,511.9 759.0,512.1 760.0,511.0 761.0,507.9 762.0,505.2 763.0,507.1 764.0,510.5 765.0,507.5 766.0,510.2 767.0,508.4 768.0,509.8 769.0,506.8 770.0,511.4 771.0,510.1 772.0,511.5 773.0,510.8 774.0,511.7 775.0,510.6 776.0,511.8 777.0,508.5 778.0,509.3 779.0,512.6 780.0,512.3 781.0,512.8 782.0,513.8 783.0,515.7 784.0,515.0 785.0,517.4 786.0,516.1 787.0,517.7 788.0,519.8 789.0,519.6 790.0,516.2 791.0,518.6 792.0,515.8 793.0,518.0 794.0,513.8 795.0,514.6 796.0,515.5 797.0,516.1 798.0,518.4 799.0,517.7 800.0,518.4 801.0,517.6 802.0,515.4 803.0,515.6 804.0,517.9 805.0,516.6 806.0,516.3 807.0,514.8 808.0,516.6 809.0,513.0 810.0,516.6 811.0,516.5 812.0,519.2 813.0,517.3 814.0,517.2 815.0,519.2 816.0,515.3 817.0,516.5 818.0,512.9 819.0,515.5 820.0,515.8 821.0,515.9 822.0,512.8 823.0,514.1 824.0,513.8 825.0,512.8 826.0,512.6 827.0,512.7 828.0,512.0 829.0,509.4 830.0,508.9 831.0,514.4 832.0,513.3 833.0,508.3 834.0,511.1 835.0,511.8 836.0,512.1 837.0,511.2 838.0,509.7 839.0,511.0 840.0,510.9 841.0,512.0 842.0,511.7 843.0,512.2 844.0,514.3 845.0,514.7 846.0,511.2 847.0,512.2 848.0,512.2 849.0,515.4 850.0,514.0 851.0,516.2 852.0,513.2 853.0,513.2 854.0,511.0 855.0,514.5 856.0,511.6 857.0,509.3 858.0,510.0 859.0,507.2 860.0,510.2 861.0,510.3 862.0,510.3 863.0,511.7 864.0,508.7 865.0,509.9 866.0,510.8 867.0,512.1 868.0,511.9 869.0,518.7 870.0,517.2 871.0,517.1 872.0,514.6 873.0,516.2 874.0,515.3 875.0,514.4 876.0,513.5 877.0,514.6 878.0,513.9 879.0,513.1 880.0,516.4 881.0,510.2 882.0,509.8 883.0,508.7 884.0,510.6 885.0,508.5 886.0,505.1 887.0,507.1 888.0,509.2 889.0,510.3 890.0,506.1 891.0,506.4 892.0,505.7 893.0,503.5 894.0,503.9 895.0,501.6 896.0,500.4 897.0,497.5 898.0,499.4 899.0,496.1 900.0,497.2 901.0,494.0 902.0,494.7 903.0,492.2 904.0,491.0 905.0,490.8 906.0,491.3 907.0,490.7 908.0,492.5 909.0,487.8 910.0,487.2 911.0,490.0 912.0,486.7 913.0,481.2 914.0,483.1 915.0,481.0 916.0,475.7 917.0,476.6 918.0,475.8 919.0,475.4 920.0,474.1 921.0,471.2 922.0,470.7 923.0,467.2 924.0,464.2 925.0,462.5 926.0,462.9 927.0,457.6 928.0,459.6 929.0,455.4 930.0,454.8 931.0,454.4 932.0,452.4 933.0,444.8 934.0,443.4 935.0,442.0 936.0,438.3 937.0,437.3 938.0,430.2 939.0,430.9 940.0,428.4 941.0,425.4 942.0,424.8 943.0,419.5 944.0,420.8 945.0,416.4 946.0,416.4 947.0,413.1 948.0,412.8 949.0,410.6 950.0,403.6 951.0,401.9 952.0,398.5 953.0,394.5 954.0,390.4 955.0,390.7 956.0,385.0 957.0,384.7 958.0,379.4 959.0,376.5 960.0,376.3 961.0,373.7 962.0,376.1 963.0,371.1 964.0,369.3 965.0,364.2 966.0,361.0 967.0,359.0 968.0,359.7 969.0,360.4 970.0,358.8 971.0,357.8 972.0,357.2 973.0,358.8 974.0,360.0 975.0,363.3 976.0,366.3 977.0,369.5 978.0,374.8 979.0,379.6 980.0,382.9 981.0,387.8 982.0,392.3 983.0,398.6 984.0,401.4 985.0,407.1 986.0,412.3 987.0,418.2 988.0,425.4 989.0,430.2 990.0,435.9 991.0,439.0 992.0,448.3 993.0,456.9 994.0,457.3 995.0,460.8 996.0,466.2 997.0,472.3 998.0,475.5 999.0,477.8 1000.0,482.5 1001.0,488.1 1002.0,491.8 1003.0,497.5 1004.0,498.4 1005.0,500.2 1006.0,503.5 1007.0,504.9 1008.0,506.9 1009.0,511.5 1010.0,513.4 1011.0,511.9 1012.0,514.4 1013.0,516.0 1014.0,517.3 1015.0,516.6 1016.0,517.6 1017.0,517.2 1018.0,518.4 1019.0,514.5 1020.0,519.5 1021.0,519.4 1022.0,517.0 1023.0,517.3 1024.0,516.6 1025.0,513.9 1026.0,514.7 1027.0,515.1 1028.0,513.9 1029.0,514.3 1030.0,512.3 1031.0,511.4 1032.0,509.4 1033.0,509.3 1034.0,508.9 1035.0,511.5 1036.0,508.6 1037.0,505.8 1038.0,507.0 1039.0,505.2 1040.0,500.1 1041.0,504.4 1042.0,501.0 1043.0,503.3 1044.0,500.2 1045.0,498.6 1046.0,500.7 1047.0,497.0 1048.0,497.7 1049.0,498.1 1050.0,497.5 1051.0,495.9 1052.0,492.8 1053.0,489.9 1054.0,492.1 1055.0,486.7 1056.0,488.2 1057.0,483.1 1058.0,483.6 1059.0,481.5 1060.0,476.4 1061.0,476.6 1062.0,475.8 1063.0,474.2 1064.0,471.3 1065.0,470.4 1066.0,467.8 1067.0,465.2 1068.0,466.9 1069.0,463.4 1070.0,464.8 1071.0,462.1 1072.0,458.2 1073.0,457.7 1074.0,456.0 1075.0,453.7 1076.0,454.2 1077.0,451.5 1078.0,453.0 1079.0,449.1 1080.0,443.7 1081.0,442.1 1082.0,438.9 1083.0,434.3 1084.0,435.3 1085.0,432.9 1086.0,429.9 1087.0,425.0 1088.0,424.4 1089.0,419.9 1090.0,419.0 1091.0,417.6 1092.0,412.1 1093.0,406.9 1094.0,405.9 1095.0,404.9 1096.0,403.0 1097.0,396.6 1098.0,395.2 1099.0,393.2 1100.0,390.9 1101.0,387.8 1102.0,381.0 1103.0,377.8 1104.0,376.0 1105.0,371.1 1106.0,367.1 1107.0,364.0 1108.0,358.4 1109.0,354.8 1110.0,349.4 1111.0,344.2 1112.0,340.9 1113.0,339.6 1114.0,335.9 1115.0,331.8 1116.0,329.8 1117.0,324.7 1118.0,322.7 1119.0,319.2 1120.0,314.4 1121.0,309.5 1122.0,312.4 1123.0,307.7 1124.0,300.2 1125.0,300.7 1126.0,299.3 1127.0,295.7 1128.0,293.9 1129.0,288.9 1130.0,288.2 1131.0,286.1 1132.0,284.1 1133.0,282.4 1134.0,281.4 1135.0,280.8 1136.0,276.8 1137.0,275.2 1138.0,274.4 1139.0,272.4 1140.0,271.7 1141.0,270.8 1142.0,270.1 1143.0,266.2 1144.0,261.4 1145.0,263.3 1146.0,262.9 1147.0,262.0 1148.0,262.2 1149.0,259.4 1150.0,264.2 1151.0,263.6 1152.0,262.2 1153.0,263.6 1154.0,264.4 1155.0,267.3 1156.0,268.0 1157.0,270.0 1158.0,269.6 1159.0,268.1 1160.0,269.8 1161.0,275.8 1162.0,278.4 1163.0,277.6 1164.0,280.3 1165.0,279.0 1166.0,280.1 1167.0,283.3 1168.0,286.6 1169.0,288.6 1170.0,291.5 1171.0,293.8 1172.0,298.4 1173.0,302.1 1174.0,302.8 1175.0,308.2 1176.0,306.8 1177.0,309.3 1178.0,313.3 1179.0,314.8 1180.0,319.2 1181.0,319.0 1182.0,324.0 1183.0,325.0 1184.0,330.5 1185.0,328.2 1186.0,330.6 1187.0,333.2 1188.0,332.1 1189.0,339.0 1190.0,341.9 1191.0,343.9 1192.0,344.1 1193.0,347.0 1194.0,353.3 1195.0,357.3 1196.0,359.9 1197.0,358.0 1198.0,359.6 1199.0,362.5 1200.0,362.0 1201.0,366.2 1202.0,370.7 1203.0,374.0 1204.0,374.0 1205.0,377.9 1206.0,378.3 1207.0,380.1 1208.0,381.8 1209.0,384.6 1210.0,386.1 1211.0,388.3 1212.0,389.6 1213.0,390.4 1214.0,389.3 1215.0,386.4 1216.0,387.5 1217.0,385.8 1218.0,383.4 1219.0,386.8 1220.0,388.2 1221.0,388.9 1222.0,386.8 1223.0,382.5 1224.0,386.1 1225.0,386.6 1226.0,382.7 1227.0,387.6 1228.0,388.3 1229.0,388.3 1230.0,389.1 1231.0,389.7 1232.0,392.6 1233.0,390.1 1234.0,390.1 1235.0,390.4 1236.0,390.5 1237.0,387.6 1238.0,392.1 1239.0,390.6 1240.0,390.8 1241.0,390.1 1242.0,389.3 1243.0,388.9 1244.0,389.5 1245.0,389.6 1246.0,389.3 1247.0,384.6 1248.0,380.5 1249.0,380.0 1250.0,373.2 1251.0,372.9 1252.0,375.6 1253.0,374.7 1254.0,372.3 1255.0,374.4 1256.0,374.2 1257.0,376.9 1258.0,374.5 1259.0,376.9 1260.0,376.0 1261.0,374.9 1262.0,375.3 1263.0,375.6 1264.0,371.0 1265.0,373.3 1266.0,371.1 1267.0,372.5 1268.0,367.2 1269.0,367.7 1270.0,360.6 1271.0,363.6 1272.0,361.3 1273.0,358.6 1274.0,356.9 1275.0,354.8 1276.0,353.8 1277.0,350.8 1278.0,346.3 1279.0,346.9 1280.0,348.7 1281.0,343.5 1282.0,341.2 1283.0,337.2 1284.0,335.1 1285.0,332.1 1286.0,328.5 1287.0,327.0 1288.0,321.3 1289.0,319.4 1290.0,317.4 1291.0,312.8 1292.0,308.0 1293.0,307.3 1294.0,301.8 1295.0,299.1 1296.0,295.3 1297.0,293.0 1298.0,289.2 1299.0,285.8 1300.0,284.2 1301.0,280.0 1302.0,270.9 1303.0,265.9 1304.0,258.6 1305.0,253.2 1306.0,248.6 1307.0,240.8 1308.0,233.2 1309.0,227.3 1310.0,221.5 1311.0,216.6 1312.0,211.8 1313.0,202.4 1314.0,196.7 1315.0,190.9 1316.0,185.4 1317.0,185.9 1318.0,180.2 1319.0,178.7 1320.0,169.9 1321.0,169.7 1322.0,162.9 1323.0,159.3 1324.0,155.3 1325.0,153.5 1326.0,151.4 1327.0,152.0 1328.0,148.3 1329.0,148.3 1330.0,147.3 1331.0,147.3 1332.0,146.2 1333.0,146.3 1334.0,146.4 1335.0,145.3 1336.0,145.5 1337.0,147.1 1338.0,153.3 1339.0,163.5 1340.0,166.9 1341.0,173.3 1342.0,184.6 1343.0,190.6 1344.0,197.8 1345.0,205.2 1346.0,217.0 1347.0,226.2 1348.0,239.2 1349.0,253.3 1350.0,265.0 1351.0,276.8 1352.0,288.9 1353.0,303.4 1354.0,317.3 1355.0,325.3 1356.0,339.1 1357.0,353.3 1358.0,360.9 1359.0,366.9 1360.0,376.0 1361.0,384.5 1362.0,392.7 1363.0,401.1 1364.0,408.5 1365.0,413.5 1366.0,421.7 1367.0,426.5 1368.0,431.6 1369.0,437.6 1370.0,440.1 1371.0,443.3 1372.0,447.8 1373.0,450.2 1374.0,452.4 1375.0,457.1 1376.0,459.0 1377.0,465.2 1378.0,465.0 1379.0,467.2 1380.0,469.6 1381.0,470.1 1382.0,474.0 1383.0,474.2 1384.0,474.9 1385.0,477.6 1386.0,480.2 1387.0,478.2 1388.0,481.7 1389.0,481.6 1390.0,484.6 1391.0,483.8 1392.0,488.7 1393.0,487.9 1394.0,485.9 1395.0,491.2 1396.0,489.3 1397.0,489.2 1398.0,489.9 1399.0,493.5 1400.0,495.6 1401.0,493.1 1402.0,492.9 1403.0,493.7 1404.0,498.6 1405.0,499.7 1406.0,497.3 1407.0,499.1 1408.0,499.1 1409.0,499.8 1410.0,502.1 1411.0,502.0 1412.0,502.4 1413.0,502.3 1414.0,504.5 1415.0,503.6 1416.0,504.8 1417.0,505.6 1418.0,504.1 1419.0,505.9 1420.0,506.5 1421.0,507.4 1422.0,505.9 1423.0,506.3 1424.0,511.1 1425.0,511.1 1426.0,511.1 1427.0,512.8 1428.0,511.0 1429.0,510.4 1430.0,511.4 1431.0,508.1 1432.0,509.7 1433.0,513.1 1434.0,512.3 1435.0,510.7 1436.0,514.1 1437.0,515.2 1438.0,515.0 1439.0,514.1 1440.0,513.2 1441.0,515.0 1442.0,515.6 1443.0,514.7 1444.0,516.3 1445.0,516.1 1446.0,516.0 1447.0,512.7 1448.0,517.6 1449.0,519.0 1450.0,515.7 1451.0,514.1 1452.0,517.4 1453.0,516.0 1454.0,515.4 1455.0,518.7 1456.0,515.2 1457.0,518.2 1458.0,515.7 1459.0,519.9 1460.0,518.8 1461.0,517.6 1462.0,518.4 1463.0,519.3 1464.0,519.9 1465.0,520.0 1466.0,519.5 1467.0,518.1 1468.0,519.8 1469.0,517.1 1470.0,520.5 1471.0,520.6 1472.0,521.2 1473.0,518.2 1474.0,519.2 1475.0,520.3 1476.0,519.4 1477.0,518.2 1478.0,519.3 1479.0,519.1 1480.0,520.3 1481.0,517.9 1482.0,519.3 1483.0,519.3 1484.0,520.0 1485.0,518.7 1486.0,518.9 1487.0,518.6 1488.0,518.7 1489.0,518.6 1490.0,518.4 1491.0,523.0 1492.0,517.4 1493.0,516.4 1494.0,516.9 1495.0,517.2 1496.0,518.4 1497.0,520.8 1498.0,521.1 1499.0,518.5 1500.0,514.2 1501.0,518.3 1502.0,515.9 1503.0,516.9 1504.0,516.1 1505.0,518.4 1506.0,517.0 1507.0,519.0 1508.0,518.6 1509.0,517.4 1510.0,517.9 1511.0,519.1 1512.0,517.2 1513.0,519.0 1514.0,517.6 1515.0,518.0 1516.0,518.9 1517.0,519.6 1518.0,518.3 1519.0,517.5 1520.0,518.2 1521.0,514.9 1522.0,519.4 1523.0,515.2 1524.0,518.2 1525.0,516.2 1526.0,517.7 1527.0,516.8 1528.0,517.2 1529.0,515.3 1530.0,513.2 1531.0,517.0 1532.0,515.7 1533.0,515.4 1534.0,515.6 1535.0,519.6 1536.0,515.8 1537.0,516.8 1538.0,514.8 1539.0,518.6 1540.0,515.3 1541.0,512.4 1542.0,520.2 1543.0,515.0 1544.0,518.4 1545.0,517.7 1546.0,517.4 1547.0,516.0 1548.0,516.7 1549.0,518.2 1550.0,516.0 1551.0,516.8 1552.0,517.8 1553.0,516.5 1554.0,515.8 1555.0,518.6 1556.0,517.0 1557.0,516.0 1558.0,514.9 1559.0,514.7 1560.0,517.7 1561.0,517.7 1562.0,512.9 1563.0,515.2 1564.0,518.1 1565.0,520.5 1566.0,520.1 1567.0,518.2 1568.0,518.5 1569.0,515.7 1570.0,517.3 1571.0,514.3 1572.0,515.3 1573.0,517.0 1574.0,519.9 1575.0,517.8 1576.0,516.8 1577.0,515.9 1578.0,514.2 1579.0,517.1 1580.0,515.8 1581.0,516.5 1582.0,514.9 1583.0,516.2 1584.0,513.9 1585.0,517.1 1586.0,518.6 1587.0,518.2 1588.0,519.8 1589.0,517.1 1590.0,517.2 1591.0,517.1 1592.0,515.2 1593.0,519.8 1594.0,518.1 1595.0,515.9 1596.0,514.9 1597.0,517.2 1598.0,517.8 1599.0,516.6 1600.0,516.6 1601.0,516.0 1602.0,516.4 1603.0,518.6 1604.0,518.5 1605.0,514.1 1606.0,516.2 1607.0,514.2 1608.0,514.1 1609.0,517.0 1610.0,514.6 1611.0,511.2 1612.0,517.0 1613.0,518.5 1614.0,519.5 1615.0,515.8 1616.0,518.0 1617.0,511.8 1618.0,514.0 1619.0,516.6 1620.0,516.8 1621.0,518.1 1622.0,517.4 1623.0,515.8 1624.0,518.1 1625.0,517.0 1626.0,518.3 1627.0,514.4 1628.0,515.8 1629.0,514.8 1630.0,516.5 1631.0,515.0 1632.0,514.6 1633.0,513.0 1634.0,515.6 1635.0,517.0 1636.0,516.4 1637.0,510.1 1638.0,512.2 1639.0,517.9 1640.0,514.7 1641.0,514.6 1642.0,516.6 1643.0,515.0 1644.0,513.6 1645.0,514.3 1646.0,517.3 1647.0,512.6 1648.0,516.3 1649.0,513.9 1650.0,514.0 1651.0,517.1 1652.0,513.5 1653.0,515.3 1654.0,513.4 1655.0,511.7 1656.0,513.7 1657.0,515.8 1658.0,513.8 1659.0,514.7 1660.0,514.1 1661.0,513.8 1662.0,513.0 1663.0,513.5 1664.0,510.3 1665.0,512.4 1666.0,510.5 1667.0,513.7 1668.0,513.9 1669.0,512.2 1670.0,514.5 1671.0,514.0 1672.0,513.6 1673.0,512.6 1674.0,513.9 1675.0,514.7 1676.0,511.9 1677.0,511.6 1678.0,514.4 1679.0,508.9 1680.0,508.1 1681.0,509.5 1682.0,512.7 1683.0,512.9 1684.0,513.3 1685.0,512.8 1686.0,515.1 1687.0,515.2 1688.0,514.2 1689.0,510.6 1690.0,512.6 1691.0,510.8 1692.0,511.1 1693.0,510.4 1694.0,512.0 1695.0,512.8 1696.0,512.0 1697.0,509.8 1698.0,509.1 1699.0,510.3 1700.0,510.5 1701.0,512.8 1702.0,511.2 1703.0,511.2 1704.0,511.4 1705.0,513.4 1706.0,514.2 1707.0,512.2 1708.0,511.1 1709.0,513.5 1710.0,512.0 1711.0,510.7 1712.0,512.7 1713.0,511.4 1714.0,508.8 1715.0,511.9 1716.0,511.3 1717.0,507.7 1718.0,507.2 1719.0,510.8 1720.0,511.9 1721.0,511.6 1722.0,508.5 1723.0,510.0 1724.0,511.5 1725.0,508.2 1726.0,510.6 1727.0,511.1 1728.0,512.1"/>
</g>
<line class="dash" x1="338.8" y1="388" x2="338.8" y2="1294" stroke-width="3.5" stroke-dasharray="16 12.05"/>
<line class="dash" x1="422.6" y1="358" x2="422.6" y2="1300" stroke-width="4.9" stroke-dasharray="16 12.05"/>
<line class="dash" x1="533" y1="213" x2="533" y2="1294" stroke-width="3.5" stroke-dasharray="16 12.05"/>
<line class="dash" x1="1137.2" y1="129.5" x2="1137.2" y2="1294" stroke-width="5.0" stroke-dasharray="16 12.05"/>
<line class="dash" x1="1314.7" y1="124" x2="1314.7" y2="1294" stroke-width="3.8" stroke-dasharray="16 12.05"/>
<line x1="151" y1="1294" x2="1723.5" y2="1294" stroke="#202020" stroke-width="5"/>
<line x1="153" y1="1294" x2="153" y2="1310" stroke="#202020" stroke-width="3.8"/>
<line x1="544.8" y1="1294" x2="544.8" y2="1310" stroke="#202020" stroke-width="3.8"/>
<line x1="937" y1="1294" x2="937" y2="1310" stroke="#202020" stroke-width="3.8"/>
<line x1="1329.5" y1="1294" x2="1329.5" y2="1310" stroke="#202020" stroke-width="3.8"/>
<line x1="1721.3" y1="1294" x2="1721.3" y2="1310" stroke="#202020" stroke-width="3.8"/>
<text class="b" text-anchor="middle" transform="translate(153.6,1380.3) scale(1.0,1.04)" font-size="57">100</text>
<text class="b" text-anchor="middle" transform="translate(544.8,1380.3) scale(1.0,1.04)" font-size="57">600</text>
<text class="b" text-anchor="middle" transform="translate(937,1380.3) scale(1.0,1.04)" font-size="57">1100</text>
<text class="b" text-anchor="middle" transform="translate(1331,1380.3) scale(1.0,1.04)" font-size="57">1600</text>
<text class="b" text-anchor="middle" transform="translate(1720.6,1380.3) scale(1.0,1.04)" font-size="57">2100</text>
<text class="b" transform="translate(593.5,1460.6) scale(1.0,1.03)" font-size="75.3">Wavenumber (cm<tspan font-size="47" dy="-21.5">−1</tspan><tspan dy="21.5">)</tspan></text>
<text class="b" font-size="75.7" transform="translate(68.3,879.7) rotate(-90) scale(1,1.03)">Intensity (a.u.)</text>
<text transform="translate(43,180.8) scale(1.0,1.04)" font-size="57.5">Multiphonon</text>
<text transform="translate(705,276) scale(1.0,1.04)" font-size="57.5">Multiphonon</text>
<text transform="translate(485.5,164.2) scale(1.0,1.04)" font-size="65">A<tspan font-size="44" dy="13.4">1</tspan><tspan font-size="44" dy="-33.5">LO</tspan></text>
<text transform="translate(360,309.5) scale(1.0,1.04)" font-size="65">E<tspan font-size="44" dy="13.6">2</tspan><tspan font-size="44" dy="-31.4">H</tspan></text>
<text transform="translate(1116,57) scale(1.0,1.04)" font-size="65">D</text>
<text transform="translate(1283,57) scale(1.0,1.04)" font-size="66">G</text>
<line x1="228.3" y1="223.7" x2="311.5" y2="362.3" stroke="#333" stroke-width="1.6"/>
<polygon points="323.3,382.0 301.2,368.5 321.8,356.1" fill="#000"/>
<line x1="882" y1="295" x2="930.5" y2="330.7" stroke="#333" stroke-width="1.6"/>
<polygon points="949.0,344.3 923.4,340.3 937.6,321.0" fill="#000"/>
<text transform="translate(1439,356.3) scale(1.0,1.04)" font-size="65.5">NaOH</text>
<text class="i" transform="translate(1644,336.2) scale(1.0,1.04)" font-size="45">ZA 2</text>
<text transform="translate(1440,433.7) scale(1.0,1.04)" font-size="65.5">–GO</text>
<text class="i" transform="translate(1604,413) scale(0.945,1.04)" font-size="45">12.5 8</text>
<text transform="translate(1427,750.5) scale(1.0,1.04)" font-size="65.5">NaOH</text>
<text class="i" transform="translate(1633,731.6) scale(1.0,1.04)" font-size="45">ZA 2</text>
<text transform="translate(1426.5,828.4) scale(1.0,1.04)" font-size="65.5">–GO</text>
<text class="i" transform="translate(1592.3,809) scale(0.89,1.04)" font-size="45">1 8</text>
<text transform="translate(1412,1160.3) scale(1.0,1.04)" font-size="65.5">NaOH</text>
<text class="i" transform="translate(1616.2,1140.8) scale(1.0,1.04)" font-size="45">ZA 2</text>
</g>
</svg>
</body>
</html>
